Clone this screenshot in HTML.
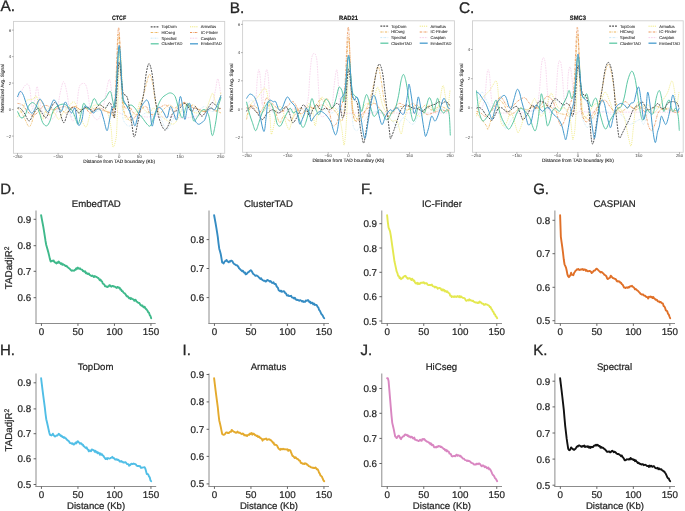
<!DOCTYPE html>
<html><head><meta charset="utf-8"><style>
html,body{margin:0;padding:0;background:#fff;}
svg{display:block;font-family:"Liberation Sans", sans-serif;will-change:transform;text-rendering:geometricPrecision;filter:blur(0.3px);}
</style></head><body>
<svg width="685" height="511" viewBox="0 0 685 511">
<rect width="685" height="511" fill="#fff"/>
<text x="0.2" y="194.4" font-size="15.0" text-anchor="start" font-weight="normal" fill="#262626" stroke="#262626" stroke-width="0.3">D.</text>
<text x="96.3" y="207.2" font-size="9.6" text-anchor="middle" font-weight="normal" fill="#262626" stroke="#262626" stroke-width="0.22">EmbedTAD</text>
<line x1="36.0" y1="210.5" x2="36.0" y2="324.0" stroke="#8c8c8c" stroke-width="1.0"/>
<line x1="35.5" y1="323.5" x2="155.7" y2="323.5" stroke="#8c8c8c" stroke-width="1.0"/>
<line x1="33.6" y1="219.3" x2="36.0" y2="219.3" stroke="#555" stroke-width="0.9"/>
<text x="31.2" y="222.85000000000002" font-size="9.8" text-anchor="end" font-weight="normal" fill="#262626" stroke="#262626" stroke-width="0.22">0.9</text>
<line x1="33.6" y1="245.7" x2="36.0" y2="245.7" stroke="#555" stroke-width="0.9"/>
<text x="31.2" y="249.25" font-size="9.8" text-anchor="end" font-weight="normal" fill="#262626" stroke="#262626" stroke-width="0.22">0.8</text>
<line x1="33.6" y1="271.3" x2="36.0" y2="271.3" stroke="#555" stroke-width="0.9"/>
<text x="31.2" y="274.85" font-size="9.8" text-anchor="end" font-weight="normal" fill="#262626" stroke="#262626" stroke-width="0.22">0.7</text>
<line x1="33.6" y1="297.7" x2="36.0" y2="297.7" stroke="#555" stroke-width="0.9"/>
<text x="31.2" y="301.25" font-size="9.8" text-anchor="end" font-weight="normal" fill="#262626" stroke="#262626" stroke-width="0.22">0.6</text>
<line x1="41.45" y1="323.5" x2="41.45" y2="325.9" stroke="#555" stroke-width="0.9"/>
<text x="41.45" y="335.0" font-size="9.8" text-anchor="middle" font-weight="normal" fill="#262626" stroke="#262626" stroke-width="0.22">0</text>
<line x1="77.95" y1="323.5" x2="77.95" y2="325.9" stroke="#555" stroke-width="0.9"/>
<text x="77.95" y="335.0" font-size="9.8" text-anchor="middle" font-weight="normal" fill="#262626" stroke="#262626" stroke-width="0.22">50</text>
<line x1="114.45" y1="323.5" x2="114.45" y2="325.9" stroke="#555" stroke-width="0.9"/>
<text x="114.45" y="335.0" font-size="9.8" text-anchor="middle" font-weight="normal" fill="#262626" stroke="#262626" stroke-width="0.22">100</text>
<line x1="150.95" y1="323.5" x2="150.95" y2="325.9" stroke="#555" stroke-width="0.9"/>
<text x="150.95" y="335.0" font-size="9.8" text-anchor="middle" font-weight="normal" fill="#262626" stroke="#262626" stroke-width="0.22">150</text>
<path d="M41.12,215.27 L41.85,219.16 L42.58,223.05 L43.32,226.94 L44.05,231.42 L44.78,236.19 L45.52,240.96 L46.25,245.00 L46.99,247.56 L47.72,250.13 L48.45,252.70 L49.19,255.91 L49.92,259.12 L50.66,261.51 L51.39,261.42 L52.12,260.71 L52.86,260.94 L53.59,260.40 L54.32,261.88 L55.06,262.38 L55.79,262.84 L56.53,263.43 L57.26,262.21 L57.99,262.88 L58.73,261.53 L59.46,262.40 L60.20,263.32 L60.93,263.90 L61.66,263.28 L62.40,264.82 L63.13,264.18 L63.86,264.92 L64.60,264.89 L65.33,266.08 L66.07,265.79 L66.80,266.15 L67.53,267.22 L68.27,267.58 L69.00,268.29 L69.74,268.80 L70.47,269.62 L71.20,270.46 L71.94,270.76 L72.67,270.33 L73.41,270.58 L74.14,270.70 L74.87,269.72 L75.61,269.84 L76.34,268.19 L77.07,268.91 L77.81,267.59 L78.54,268.46 L79.28,268.81 L80.01,268.27 L80.74,269.26 L81.48,269.64 L82.21,269.66 L82.95,271.09 L83.68,271.01 L84.41,271.84 L85.15,271.29 L85.88,273.17 L86.61,272.76 L87.35,273.88 L88.08,274.16 L88.82,273.45 L89.55,274.87 L90.28,275.18 L91.02,275.69 L91.75,276.02 L92.49,275.56 L93.22,276.27 L93.95,277.06 L94.69,276.08 L95.42,276.47 L96.15,276.79 L96.89,277.13 L97.62,277.82 L98.36,277.95 L99.09,279.09 L99.82,280.16 L100.56,279.59 L101.29,281.18 L102.03,281.42 L102.76,283.54 L103.49,284.01 L104.23,284.41 L104.96,286.21 L105.69,286.18 L106.43,286.54 L107.16,287.14 L107.90,286.57 L108.63,286.50 L109.36,285.12 L110.10,285.44 L110.83,286.36 L111.57,286.72 L112.30,285.84 L113.03,285.84 L113.77,286.51 L114.50,286.49 L115.23,286.90 L115.97,287.48 L116.70,287.90 L117.44,286.91 L118.17,287.38 L118.90,287.89 L119.64,287.73 L120.37,289.54 L121.11,289.41 L121.84,291.10 L122.57,291.08 L123.31,292.38 L124.04,293.00 L124.77,293.42 L125.51,294.27 L126.24,295.56 L126.98,296.43 L127.71,296.27 L128.44,297.36 L129.18,298.28 L129.91,297.65 L130.65,298.93 L131.38,298.24 L132.11,298.94 L132.85,299.20 L133.58,299.56 L134.32,300.87 L135.05,299.69 L135.78,300.02 L136.52,301.61 L137.25,301.86 L137.98,302.60 L138.72,303.01 L139.45,303.07 L140.19,304.56 L140.92,305.23 L141.65,305.89 L142.39,305.38 L143.12,306.74 L143.86,307.42 L144.59,306.73 L145.32,308.26 L146.06,309.03 L146.79,309.77 L147.52,310.74 L148.26,312.34 L148.99,312.69 L149.73,315.07 L150.46,316.02 L151.19,318.26" fill="none" stroke="#3fb98b" stroke-width="1.9" stroke-linejoin="round" stroke-linecap="round"/>
<text x="183.4" y="194.4" font-size="15.0" text-anchor="start" font-weight="normal" fill="#262626" stroke="#262626" stroke-width="0.3">E.</text>
<text x="268.5" y="207.2" font-size="9.6" text-anchor="middle" font-weight="normal" fill="#262626" stroke="#262626" stroke-width="0.22">ClusterTAD</text>
<line x1="209.0" y1="210.5" x2="209.0" y2="324.0" stroke="#8c8c8c" stroke-width="1.0"/>
<line x1="208.5" y1="323.5" x2="329" y2="323.5" stroke="#8c8c8c" stroke-width="1.0"/>
<line x1="206.6" y1="239.6" x2="209.0" y2="239.6" stroke="#555" stroke-width="0.9"/>
<text x="204.2" y="243.15" font-size="9.8" text-anchor="end" font-weight="normal" fill="#262626" stroke="#262626" stroke-width="0.22">0.8</text>
<line x1="206.6" y1="268.5" x2="209.0" y2="268.5" stroke="#555" stroke-width="0.9"/>
<text x="204.2" y="272.05" font-size="9.8" text-anchor="end" font-weight="normal" fill="#262626" stroke="#262626" stroke-width="0.22">0.7</text>
<line x1="206.6" y1="297.6" x2="209.0" y2="297.6" stroke="#555" stroke-width="0.9"/>
<text x="204.2" y="301.15000000000003" font-size="9.8" text-anchor="end" font-weight="normal" fill="#262626" stroke="#262626" stroke-width="0.22">0.6</text>
<line x1="214.45" y1="323.5" x2="214.45" y2="325.9" stroke="#555" stroke-width="0.9"/>
<text x="214.45" y="335.0" font-size="9.8" text-anchor="middle" font-weight="normal" fill="#262626" stroke="#262626" stroke-width="0.22">0</text>
<line x1="250.95" y1="323.5" x2="250.95" y2="325.9" stroke="#555" stroke-width="0.9"/>
<text x="250.95" y="335.0" font-size="9.8" text-anchor="middle" font-weight="normal" fill="#262626" stroke="#262626" stroke-width="0.22">50</text>
<line x1="287.45" y1="323.5" x2="287.45" y2="325.9" stroke="#555" stroke-width="0.9"/>
<text x="287.45" y="335.0" font-size="9.8" text-anchor="middle" font-weight="normal" fill="#262626" stroke="#262626" stroke-width="0.22">100</text>
<line x1="323.95" y1="323.5" x2="323.95" y2="325.9" stroke="#555" stroke-width="0.9"/>
<text x="323.95" y="335.0" font-size="9.8" text-anchor="middle" font-weight="normal" fill="#262626" stroke="#262626" stroke-width="0.22">150</text>
<path d="M214.12,215.27 L214.85,219.26 L215.58,223.24 L216.32,227.63 L217.05,232.21 L217.78,236.80 L218.52,243.41 L219.25,248.68 L219.99,251.30 L220.72,253.92 L221.45,258.20 L222.19,262.49 L222.92,262.80 L223.66,263.41 L224.39,261.94 L225.12,261.10 L225.86,260.84 L226.59,259.94 L227.32,261.39 L228.06,261.70 L228.79,262.33 L229.53,261.25 L230.26,261.54 L230.99,260.76 L231.73,260.81 L232.46,261.28 L233.20,262.93 L233.93,263.78 L234.66,264.22 L235.40,264.68 L236.13,265.20 L236.86,265.26 L237.60,265.83 L238.33,266.83 L239.07,268.18 L239.80,268.86 L240.53,269.74 L241.27,270.39 L242.00,271.16 L242.74,270.64 L243.47,271.72 L244.20,272.72 L244.94,272.46 L245.67,274.37 L246.41,274.14 L247.14,273.29 L247.87,272.46 L248.61,272.11 L249.34,271.27 L250.07,270.89 L250.81,270.15 L251.54,270.88 L252.28,272.29 L253.01,273.68 L253.74,274.21 L254.48,274.69 L255.21,275.75 L255.95,275.68 L256.68,275.49 L257.41,276.03 L258.15,276.48 L258.88,277.31 L259.61,278.10 L260.35,278.94 L261.08,278.22 L261.82,279.35 L262.55,280.18 L263.28,280.49 L264.02,280.77 L264.75,280.69 L265.49,281.49 L266.22,281.42 L266.95,280.15 L267.69,280.05 L268.42,280.58 L269.15,280.87 L269.89,281.65 L270.62,281.08 L271.36,281.93 L272.09,282.97 L272.82,282.90 L273.56,282.37 L274.29,283.84 L275.03,284.02 L275.76,284.02 L276.49,286.19 L277.23,287.15 L277.96,287.96 L278.69,290.31 L279.43,290.82 L280.16,291.29 L280.90,290.62 L281.63,291.74 L282.36,291.52 L283.10,291.49 L283.83,291.13 L284.57,291.96 L285.30,293.31 L286.03,293.33 L286.77,295.28 L287.50,295.65 L288.23,295.21 L288.97,296.05 L289.70,296.14 L290.44,295.99 L291.17,295.83 L291.90,297.30 L292.64,297.60 L293.37,297.79 L294.11,298.51 L294.84,297.66 L295.57,299.15 L296.31,299.95 L297.04,299.74 L297.77,300.02 L298.51,300.20 L299.24,300.75 L299.98,300.13 L300.71,300.47 L301.44,300.78 L302.18,301.55 L302.91,301.10 L303.65,302.01 L304.38,301.59 L305.11,301.87 L305.85,300.44 L306.58,300.80 L307.32,300.55 L308.05,300.04 L308.78,300.94 L309.52,302.19 L310.25,301.77 L310.98,303.20 L311.72,302.82 L312.45,302.80 L313.19,304.29 L313.92,303.44 L314.65,304.92 L315.39,304.70 L316.12,304.90 L316.86,305.37 L317.59,306.87 L318.32,307.45 L319.06,309.77 L319.79,310.59 L320.52,312.10 L321.26,313.84 L321.99,314.68 L322.73,315.58 L323.46,317.19 L324.19,318.26" fill="none" stroke="#358cc3" stroke-width="1.9" stroke-linejoin="round" stroke-linecap="round"/>
<text x="361.0" y="194.4" font-size="15.0" text-anchor="start" font-weight="normal" fill="#262626" stroke="#262626" stroke-width="0.3">F.</text>
<text x="441.9" y="207.2" font-size="9.6" text-anchor="middle" font-weight="normal" fill="#262626" stroke="#262626" stroke-width="0.22">IC-Finder</text>
<line x1="381.8" y1="210.5" x2="381.8" y2="324.0" stroke="#8c8c8c" stroke-width="1.0"/>
<line x1="381.3" y1="323.5" x2="502" y2="323.5" stroke="#8c8c8c" stroke-width="1.0"/>
<line x1="379.40000000000003" y1="223.7" x2="381.8" y2="223.7" stroke="#555" stroke-width="0.9"/>
<text x="377.0" y="227.25" font-size="9.8" text-anchor="end" font-weight="normal" fill="#262626" stroke="#262626" stroke-width="0.22">0.9</text>
<line x1="379.40000000000003" y1="248" x2="381.8" y2="248" stroke="#555" stroke-width="0.9"/>
<text x="377.0" y="251.55" font-size="9.8" text-anchor="end" font-weight="normal" fill="#262626" stroke="#262626" stroke-width="0.22">0.8</text>
<line x1="379.40000000000003" y1="272.3" x2="381.8" y2="272.3" stroke="#555" stroke-width="0.9"/>
<text x="377.0" y="275.85" font-size="9.8" text-anchor="end" font-weight="normal" fill="#262626" stroke="#262626" stroke-width="0.22">0.7</text>
<line x1="379.40000000000003" y1="296.7" x2="381.8" y2="296.7" stroke="#555" stroke-width="0.9"/>
<text x="377.0" y="300.25" font-size="9.8" text-anchor="end" font-weight="normal" fill="#262626" stroke="#262626" stroke-width="0.22">0.6</text>
<line x1="379.40000000000003" y1="321" x2="381.8" y2="321" stroke="#555" stroke-width="0.9"/>
<text x="377.0" y="324.55" font-size="9.8" text-anchor="end" font-weight="normal" fill="#262626" stroke="#262626" stroke-width="0.22">0.5</text>
<line x1="387.25" y1="323.5" x2="387.25" y2="325.9" stroke="#555" stroke-width="0.9"/>
<text x="387.25" y="335.0" font-size="9.8" text-anchor="middle" font-weight="normal" fill="#262626" stroke="#262626" stroke-width="0.22">0</text>
<line x1="423.75" y1="323.5" x2="423.75" y2="325.9" stroke="#555" stroke-width="0.9"/>
<text x="423.75" y="335.0" font-size="9.8" text-anchor="middle" font-weight="normal" fill="#262626" stroke="#262626" stroke-width="0.22">50</text>
<line x1="460.25" y1="323.5" x2="460.25" y2="325.9" stroke="#555" stroke-width="0.9"/>
<text x="460.25" y="335.0" font-size="9.8" text-anchor="middle" font-weight="normal" fill="#262626" stroke="#262626" stroke-width="0.22">100</text>
<line x1="496.75" y1="323.5" x2="496.75" y2="325.9" stroke="#555" stroke-width="0.9"/>
<text x="496.75" y="335.0" font-size="9.8" text-anchor="middle" font-weight="normal" fill="#262626" stroke="#262626" stroke-width="0.22">150</text>
<path d="M387.12,215.27 L387.85,222.32 L388.58,227.63 L389.32,229.46 L390.05,231.30 L390.78,235.40 L391.52,240.64 L392.25,245.85 L392.99,250.99 L393.72,256.13 L394.45,261.26 L395.19,264.62 L395.92,267.97 L396.66,271.46 L397.39,273.04 L398.12,275.87 L398.86,276.09 L399.59,278.20 L400.32,277.59 L401.06,279.15 L401.79,278.48 L402.53,278.12 L403.26,277.08 L403.99,276.48 L404.73,275.96 L405.46,275.81 L406.20,277.05 L406.93,277.64 L407.66,278.74 L408.40,278.49 L409.13,278.23 L409.86,278.27 L410.60,278.92 L411.33,280.09 L412.07,278.70 L412.80,279.53 L413.53,280.83 L414.27,280.59 L415.00,282.48 L415.74,283.40 L416.47,283.54 L417.20,282.65 L417.94,284.16 L418.67,283.26 L419.41,283.98 L420.14,283.58 L420.87,282.75 L421.61,282.72 L422.34,282.56 L423.07,282.83 L423.81,282.26 L424.54,283.53 L425.28,283.29 L426.01,283.16 L426.74,283.09 L427.48,284.54 L428.21,285.08 L428.95,285.15 L429.68,284.95 L430.41,285.21 L431.15,284.82 L431.88,284.58 L432.61,286.08 L433.35,286.32 L434.08,286.45 L434.82,287.46 L435.55,286.80 L436.28,287.11 L437.02,287.58 L437.75,288.78 L438.49,288.11 L439.22,287.88 L439.95,288.25 L440.69,288.44 L441.42,289.98 L442.15,290.40 L442.89,289.22 L443.62,290.49 L444.36,290.07 L445.09,291.44 L445.82,290.88 L446.56,292.06 L447.29,291.34 L448.03,292.56 L448.76,293.04 L449.49,293.45 L450.23,295.60 L450.96,295.75 L451.69,297.07 L452.43,296.35 L453.16,296.36 L453.90,297.06 L454.63,296.29 L455.36,296.81 L456.10,296.37 L456.83,296.96 L457.57,296.05 L458.30,296.44 L459.03,297.22 L459.77,296.11 L460.50,297.16 L461.23,296.58 L461.97,297.19 L462.70,297.74 L463.44,297.88 L464.17,298.09 L464.90,298.58 L465.64,300.02 L466.37,300.83 L467.11,300.50 L467.84,299.98 L468.57,300.51 L469.31,299.29 L470.04,300.38 L470.77,300.26 L471.51,300.53 L472.24,301.04 L472.98,300.67 L473.71,301.58 L474.44,302.05 L475.18,302.28 L475.91,302.53 L476.65,302.46 L477.38,302.97 L478.11,302.37 L478.85,302.94 L479.58,301.48 L480.32,302.23 L481.05,302.35 L481.78,303.37 L482.52,303.69 L483.25,303.69 L483.98,304.92 L484.72,304.83 L485.45,303.95 L486.19,304.38 L486.92,304.46 L487.65,304.98 L488.39,305.27 L489.12,305.79 L489.86,307.15 L490.59,307.03 L491.32,308.79 L492.06,309.60 L492.79,311.45 L493.52,312.05 L494.26,314.15 L494.99,314.46 L495.73,316.34 L496.46,316.87 L497.19,318.26" fill="none" stroke="#e4e850" stroke-width="1.9" stroke-linejoin="round" stroke-linecap="round"/>
<text x="533.2" y="194.4" font-size="15.0" text-anchor="start" font-weight="normal" fill="#262626" stroke="#262626" stroke-width="0.3">G.</text>
<text x="614.5" y="207.2" font-size="9.6" text-anchor="middle" font-weight="normal" fill="#262626" stroke="#262626" stroke-width="0.22">CASPIAN</text>
<line x1="554.9" y1="210.5" x2="554.9" y2="324.0" stroke="#8c8c8c" stroke-width="1.0"/>
<line x1="554.4" y1="323.5" x2="675" y2="323.5" stroke="#8c8c8c" stroke-width="1.0"/>
<line x1="552.5" y1="220.3" x2="554.9" y2="220.3" stroke="#555" stroke-width="0.9"/>
<text x="550.1" y="223.85000000000002" font-size="9.8" text-anchor="end" font-weight="normal" fill="#262626" stroke="#262626" stroke-width="0.22">0.8</text>
<line x1="552.5" y1="253.7" x2="554.9" y2="253.7" stroke="#555" stroke-width="0.9"/>
<text x="550.1" y="257.25" font-size="9.8" text-anchor="end" font-weight="normal" fill="#262626" stroke="#262626" stroke-width="0.22">0.7</text>
<line x1="552.5" y1="287.3" x2="554.9" y2="287.3" stroke="#555" stroke-width="0.9"/>
<text x="550.1" y="290.85" font-size="9.8" text-anchor="end" font-weight="normal" fill="#262626" stroke="#262626" stroke-width="0.22">0.6</text>
<line x1="552.5" y1="320.7" x2="554.9" y2="320.7" stroke="#555" stroke-width="0.9"/>
<text x="550.1" y="324.25" font-size="9.8" text-anchor="end" font-weight="normal" fill="#262626" stroke="#262626" stroke-width="0.22">0.5</text>
<line x1="560.35" y1="323.5" x2="560.35" y2="325.9" stroke="#555" stroke-width="0.9"/>
<text x="560.35" y="335.0" font-size="9.8" text-anchor="middle" font-weight="normal" fill="#262626" stroke="#262626" stroke-width="0.22">0</text>
<line x1="596.85" y1="323.5" x2="596.85" y2="325.9" stroke="#555" stroke-width="0.9"/>
<text x="596.85" y="335.0" font-size="9.8" text-anchor="middle" font-weight="normal" fill="#262626" stroke="#262626" stroke-width="0.22">50</text>
<line x1="633.35" y1="323.5" x2="633.35" y2="325.9" stroke="#555" stroke-width="0.9"/>
<text x="633.35" y="335.0" font-size="9.8" text-anchor="middle" font-weight="normal" fill="#262626" stroke="#262626" stroke-width="0.22">100</text>
<line x1="669.85" y1="323.5" x2="669.85" y2="325.9" stroke="#555" stroke-width="0.9"/>
<text x="669.85" y="335.0" font-size="9.8" text-anchor="middle" font-weight="normal" fill="#262626" stroke="#262626" stroke-width="0.22">150</text>
<path d="M560.12,215.27 L560.85,236.80 L561.58,242.04 L562.32,247.28 L563.05,253.22 L563.78,259.51 L564.52,264.26 L565.25,265.91 L565.99,267.56 L566.72,270.72 L567.45,274.63 L568.19,276.43 L568.92,277.16 L569.66,276.15 L570.39,275.15 L571.12,272.71 L571.86,274.72 L572.59,274.93 L573.32,275.20 L574.06,273.07 L574.79,272.01 L575.53,270.82 L576.26,270.31 L576.99,269.31 L577.73,269.64 L578.46,269.00 L579.20,269.90 L579.93,270.00 L580.66,269.52 L581.40,269.29 L582.13,269.58 L582.86,269.07 L583.60,270.06 L584.33,269.33 L585.07,269.36 L585.80,270.69 L586.53,270.11 L587.27,271.08 L588.00,271.28 L588.74,271.11 L589.47,270.89 L590.20,271.17 L590.94,271.77 L591.67,272.99 L592.41,272.44 L593.14,271.58 L593.87,270.62 L594.61,270.61 L595.34,270.09 L596.07,268.99 L596.81,268.69 L597.54,269.35 L598.28,270.13 L599.01,270.84 L599.74,271.48 L600.48,272.42 L601.21,272.02 L601.95,272.19 L602.68,273.02 L603.41,273.43 L604.15,274.59 L604.88,275.02 L605.61,275.51 L606.35,276.17 L607.08,278.25 L607.82,279.07 L608.55,278.46 L609.28,277.98 L610.02,277.61 L610.75,275.68 L611.49,276.38 L612.22,277.29 L612.95,278.10 L613.69,278.24 L614.42,278.72 L615.15,278.89 L615.89,279.28 L616.62,280.78 L617.36,281.44 L618.09,281.16 L618.82,281.59 L619.56,281.54 L620.29,282.79 L621.03,282.65 L621.76,284.13 L622.49,284.55 L623.23,285.83 L623.96,287.45 L624.69,287.54 L625.43,288.06 L626.16,287.47 L626.90,287.49 L627.63,287.86 L628.36,287.02 L629.10,287.53 L629.83,286.39 L630.57,286.22 L631.30,286.28 L632.03,285.81 L632.77,286.73 L633.50,287.22 L634.23,287.88 L634.97,289.35 L635.70,289.02 L636.44,289.56 L637.17,290.37 L637.90,290.76 L638.64,291.64 L639.37,292.37 L640.11,293.27 L640.84,294.04 L641.57,294.49 L642.31,294.44 L643.04,294.38 L643.77,295.32 L644.51,295.72 L645.24,295.69 L645.98,296.87 L646.71,297.02 L647.44,297.16 L648.18,298.52 L648.91,296.82 L649.65,296.85 L650.38,296.57 L651.11,297.16 L651.85,296.70 L652.58,298.09 L653.32,297.03 L654.05,298.17 L654.78,298.79 L655.52,299.81 L656.25,299.62 L656.98,299.96 L657.72,301.18 L658.45,301.55 L659.19,301.50 L659.92,302.32 L660.65,301.92 L661.39,302.67 L662.12,303.41 L662.86,303.47 L663.59,306.06 L664.32,306.30 L665.06,307.80 L665.79,310.35 L666.52,310.72 L667.26,311.33 L667.99,313.81 L668.73,314.39 L669.46,316.50 L670.19,318.26" fill="none" stroke="#e07028" stroke-width="1.9" stroke-linejoin="round" stroke-linecap="round"/>
<text x="0.0" y="354.9" font-size="15.0" text-anchor="start" font-weight="normal" fill="#262626" stroke="#262626" stroke-width="0.3">H.</text>
<text x="95.6" y="370.2" font-size="9.6" text-anchor="middle" font-weight="normal" fill="#262626" stroke="#262626" stroke-width="0.22">TopDom</text>
<line x1="36.0" y1="373.5" x2="36.0" y2="487.0" stroke="#8c8c8c" stroke-width="1.0"/>
<line x1="35.5" y1="486.5" x2="156.2" y2="486.5" stroke="#8c8c8c" stroke-width="1.0"/>
<line x1="33.6" y1="382.8" x2="36.0" y2="382.8" stroke="#555" stroke-width="0.9"/>
<text x="31.2" y="386.35" font-size="9.8" text-anchor="end" font-weight="normal" fill="#262626" stroke="#262626" stroke-width="0.22">0.9</text>
<line x1="33.6" y1="408.9" x2="36.0" y2="408.9" stroke="#555" stroke-width="0.9"/>
<text x="31.2" y="412.45" font-size="9.8" text-anchor="end" font-weight="normal" fill="#262626" stroke="#262626" stroke-width="0.22">0.8</text>
<line x1="33.6" y1="433.7" x2="36.0" y2="433.7" stroke="#555" stroke-width="0.9"/>
<text x="31.2" y="437.25" font-size="9.8" text-anchor="end" font-weight="normal" fill="#262626" stroke="#262626" stroke-width="0.22">0.7</text>
<line x1="33.6" y1="458.8" x2="36.0" y2="458.8" stroke="#555" stroke-width="0.9"/>
<text x="31.2" y="462.35" font-size="9.8" text-anchor="end" font-weight="normal" fill="#262626" stroke="#262626" stroke-width="0.22">0.6</text>
<line x1="33.6" y1="484.5" x2="36.0" y2="484.5" stroke="#555" stroke-width="0.9"/>
<text x="31.2" y="488.05" font-size="9.8" text-anchor="end" font-weight="normal" fill="#262626" stroke="#262626" stroke-width="0.22">0.5</text>
<line x1="41.45" y1="486.5" x2="41.45" y2="488.9" stroke="#555" stroke-width="0.9"/>
<text x="41.45" y="498.0" font-size="9.8" text-anchor="middle" font-weight="normal" fill="#262626" stroke="#262626" stroke-width="0.22">0</text>
<line x1="77.95" y1="486.5" x2="77.95" y2="488.9" stroke="#555" stroke-width="0.9"/>
<text x="77.95" y="498.0" font-size="9.8" text-anchor="middle" font-weight="normal" fill="#262626" stroke="#262626" stroke-width="0.22">50</text>
<line x1="114.45" y1="486.5" x2="114.45" y2="488.9" stroke="#555" stroke-width="0.9"/>
<text x="114.45" y="498.0" font-size="9.8" text-anchor="middle" font-weight="normal" fill="#262626" stroke="#262626" stroke-width="0.22">100</text>
<line x1="150.95" y1="486.5" x2="150.95" y2="488.9" stroke="#555" stroke-width="0.9"/>
<text x="150.95" y="498.0" font-size="9.8" text-anchor="middle" font-weight="normal" fill="#262626" stroke="#262626" stroke-width="0.22">150</text>
<path d="M41.12,378.27 L41.85,384.35 L42.58,390.44 L43.32,396.13 L44.05,401.64 L44.78,407.14 L45.52,413.74 L46.25,419.20 L46.99,422.34 L47.72,425.49 L48.45,428.88 L49.19,432.27 L49.92,434.83 L50.66,435.03 L51.39,435.46 L52.12,435.04 L52.86,433.68 L53.59,435.10 L54.32,435.93 L55.06,436.57 L55.79,436.03 L56.53,435.43 L57.26,435.62 L57.99,434.78 L58.73,433.80 L59.46,434.39 L60.20,435.33 L60.93,435.96 L61.66,435.70 L62.40,437.07 L63.13,436.92 L63.86,437.87 L64.60,437.27 L65.33,438.27 L66.07,438.43 L66.80,439.70 L67.53,440.08 L68.27,440.85 L69.00,441.23 L69.74,442.83 L70.47,443.07 L71.20,443.20 L71.94,443.83 L72.67,443.33 L73.41,444.54 L74.14,444.48 L74.87,443.55 L75.61,442.49 L76.34,443.38 L77.07,441.81 L77.81,441.16 L78.54,442.18 L79.28,442.56 L80.01,443.76 L80.74,443.17 L81.48,443.62 L82.21,444.81 L82.95,444.76 L83.68,446.34 L84.41,446.50 L85.15,447.49 L85.88,447.95 L86.61,447.38 L87.35,449.18 L88.08,449.64 L88.82,451.28 L89.55,450.40 L90.28,450.72 L91.02,451.28 L91.75,449.52 L92.49,449.63 L93.22,449.99 L93.95,450.41 L94.69,451.76 L95.42,450.82 L96.15,452.18 L96.89,451.78 L97.62,453.24 L98.36,452.56 L99.09,452.98 L99.82,454.68 L100.56,453.40 L101.29,454.69 L102.03,454.27 L102.76,455.52 L103.49,455.93 L104.23,457.26 L104.96,458.17 L105.69,459.12 L106.43,458.26 L107.16,459.20 L107.90,458.06 L108.63,458.43 L109.36,458.58 L110.10,458.34 L110.83,457.79 L111.57,457.56 L112.30,456.85 L113.03,458.04 L113.77,458.01 L114.50,458.73 L115.23,459.47 L115.97,459.48 L116.70,459.27 L117.44,459.93 L118.17,459.78 L118.90,460.29 L119.64,461.56 L120.37,461.60 L121.11,461.01 L121.84,461.72 L122.57,461.69 L123.31,462.49 L124.04,462.66 L124.77,462.26 L125.51,462.31 L126.24,462.95 L126.98,464.03 L127.71,464.19 L128.44,464.14 L129.18,465.75 L129.91,465.25 L130.65,464.49 L131.38,463.73 L132.11,463.95 L132.85,464.03 L133.58,463.49 L134.32,463.85 L135.05,464.04 L135.78,464.31 L136.52,465.54 L137.25,465.99 L137.98,466.17 L138.72,465.95 L139.45,466.36 L140.19,466.21 L140.92,467.87 L141.65,467.82 L142.39,467.67 L143.12,467.43 L143.86,467.33 L144.59,467.13 L145.32,468.61 L146.06,471.28 L146.79,474.12 L147.52,473.99 L148.26,474.59 L148.99,476.39 L149.73,477.32 L150.46,480.35 L151.19,481.26" fill="none" stroke="#50bee6" stroke-width="1.9" stroke-linejoin="round" stroke-linecap="round"/>
<text x="96.1" y="509.2" font-size="9.6" text-anchor="middle" font-weight="normal" fill="#262626" stroke="#262626" stroke-width="0.22">Distance (Kb)</text>
<text x="182.6" y="354.9" font-size="15.0" text-anchor="start" font-weight="normal" fill="#262626" stroke="#262626" stroke-width="0.3">I.</text>
<text x="268.5" y="370.2" font-size="9.6" text-anchor="middle" font-weight="normal" fill="#262626" stroke="#262626" stroke-width="0.22">Armatus</text>
<line x1="209.0" y1="373.5" x2="209.0" y2="487.0" stroke="#8c8c8c" stroke-width="1.0"/>
<line x1="208.5" y1="486.5" x2="329" y2="486.5" stroke="#8c8c8c" stroke-width="1.0"/>
<line x1="206.6" y1="374.5" x2="209.0" y2="374.5" stroke="#555" stroke-width="0.9"/>
<text x="204.2" y="378.05" font-size="9.8" text-anchor="end" font-weight="normal" fill="#262626" stroke="#262626" stroke-width="0.22">0.9</text>
<line x1="206.6" y1="401.9" x2="209.0" y2="401.9" stroke="#555" stroke-width="0.9"/>
<text x="204.2" y="405.45" font-size="9.8" text-anchor="end" font-weight="normal" fill="#262626" stroke="#262626" stroke-width="0.22">0.8</text>
<line x1="206.6" y1="429.3" x2="209.0" y2="429.3" stroke="#555" stroke-width="0.9"/>
<text x="204.2" y="432.85" font-size="9.8" text-anchor="end" font-weight="normal" fill="#262626" stroke="#262626" stroke-width="0.22">0.7</text>
<line x1="206.6" y1="456.4" x2="209.0" y2="456.4" stroke="#555" stroke-width="0.9"/>
<text x="204.2" y="459.95" font-size="9.8" text-anchor="end" font-weight="normal" fill="#262626" stroke="#262626" stroke-width="0.22">0.6</text>
<line x1="206.6" y1="483.9" x2="209.0" y2="483.9" stroke="#555" stroke-width="0.9"/>
<text x="204.2" y="487.45" font-size="9.8" text-anchor="end" font-weight="normal" fill="#262626" stroke="#262626" stroke-width="0.22">0.5</text>
<line x1="214.45" y1="486.5" x2="214.45" y2="488.9" stroke="#555" stroke-width="0.9"/>
<text x="214.45" y="498.0" font-size="9.8" text-anchor="middle" font-weight="normal" fill="#262626" stroke="#262626" stroke-width="0.22">0</text>
<line x1="250.95" y1="486.5" x2="250.95" y2="488.9" stroke="#555" stroke-width="0.9"/>
<text x="250.95" y="498.0" font-size="9.8" text-anchor="middle" font-weight="normal" fill="#262626" stroke="#262626" stroke-width="0.22">50</text>
<line x1="287.45" y1="486.5" x2="287.45" y2="488.9" stroke="#555" stroke-width="0.9"/>
<text x="287.45" y="498.0" font-size="9.8" text-anchor="middle" font-weight="normal" fill="#262626" stroke="#262626" stroke-width="0.22">100</text>
<line x1="323.95" y1="486.5" x2="323.95" y2="488.9" stroke="#555" stroke-width="0.9"/>
<text x="323.95" y="498.0" font-size="9.8" text-anchor="middle" font-weight="normal" fill="#262626" stroke="#262626" stroke-width="0.22">150</text>
<path d="M214.12,378.27 L214.85,384.35 L215.58,390.44 L216.32,396.13 L217.05,401.64 L217.78,407.14 L218.52,414.48 L219.25,420.42 L219.99,423.56 L220.72,426.71 L221.45,430.38 L222.19,434.05 L222.92,434.57 L223.66,434.74 L224.39,434.64 L225.12,433.78 L225.86,432.66 L226.59,432.38 L227.32,432.66 L228.06,433.15 L228.79,433.08 L229.53,432.20 L230.26,431.70 L230.99,431.80 L231.73,429.86 L232.46,430.72 L233.20,431.18 L233.93,431.72 L234.66,431.87 L235.40,432.66 L236.13,432.79 L236.86,432.20 L237.60,431.61 L238.33,432.69 L239.07,432.85 L239.80,432.52 L240.53,433.35 L241.27,433.78 L242.00,434.18 L242.74,433.45 L243.47,433.92 L244.20,435.35 L244.94,434.99 L245.67,435.48 L246.41,435.14 L247.14,436.06 L247.87,435.00 L248.61,434.57 L249.34,434.77 L250.07,433.41 L250.81,434.01 L251.54,433.08 L252.28,434.70 L253.01,433.56 L253.74,433.77 L254.48,434.48 L255.21,435.35 L255.95,435.30 L256.68,436.04 L257.41,435.69 L258.15,437.07 L258.88,436.38 L259.61,437.08 L260.35,438.08 L261.08,438.31 L261.82,438.93 L262.55,440.64 L263.28,439.30 L264.02,439.47 L264.75,439.03 L265.49,438.92 L266.22,438.46 L266.95,439.81 L267.69,439.73 L268.42,439.41 L269.15,439.11 L269.89,439.74 L270.62,440.02 L271.36,440.75 L272.09,441.37 L272.82,442.70 L273.56,442.57 L274.29,444.65 L275.03,444.96 L275.76,444.74 L276.49,445.13 L277.23,445.87 L277.96,447.54 L278.69,448.73 L279.43,449.16 L280.16,449.90 L280.90,448.81 L281.63,449.36 L282.36,449.25 L283.10,448.65 L283.83,449.18 L284.57,449.13 L285.30,449.27 L286.03,449.33 L286.77,449.66 L287.50,449.21 L288.23,450.88 L288.97,449.94 L289.70,450.15 L290.44,450.64 L291.17,452.70 L291.90,454.48 L292.64,456.03 L293.37,456.19 L294.11,457.25 L294.84,458.06 L295.57,457.25 L296.31,458.07 L297.04,458.91 L297.77,459.03 L298.51,459.66 L299.24,460.52 L299.98,460.66 L300.71,462.76 L301.44,462.96 L302.18,463.36 L302.91,463.88 L303.65,463.67 L304.38,464.11 L305.11,463.20 L305.85,463.68 L306.58,463.64 L307.32,464.92 L308.05,465.20 L308.78,466.15 L309.52,466.39 L310.25,466.69 L310.98,467.35 L311.72,467.35 L312.45,467.91 L313.19,467.79 L313.92,467.99 L314.65,468.02 L315.39,467.46 L316.12,468.21 L316.86,469.39 L317.59,469.25 L318.32,470.53 L319.06,472.70 L319.79,473.65 L320.52,475.58 L321.26,476.09 L321.99,476.79 L322.73,478.72 L323.46,480.45 L324.19,481.26" fill="none" stroke="#e4aa2d" stroke-width="1.9" stroke-linejoin="round" stroke-linecap="round"/>
<text x="269.0" y="509.2" font-size="9.6" text-anchor="middle" font-weight="normal" fill="#262626" stroke="#262626" stroke-width="0.22">Distance (Kb)</text>
<text x="360.6" y="354.9" font-size="15.0" text-anchor="start" font-weight="normal" fill="#262626" stroke="#262626" stroke-width="0.3">J.</text>
<text x="441.4" y="370.2" font-size="9.6" text-anchor="middle" font-weight="normal" fill="#262626" stroke="#262626" stroke-width="0.22">HiCseg</text>
<line x1="381.8" y1="373.5" x2="381.8" y2="487.0" stroke="#8c8c8c" stroke-width="1.0"/>
<line x1="381.3" y1="486.5" x2="502" y2="486.5" stroke="#8c8c8c" stroke-width="1.0"/>
<line x1="379.40000000000003" y1="388.5" x2="381.8" y2="388.5" stroke="#555" stroke-width="0.9"/>
<text x="377.0" y="392.05" font-size="9.8" text-anchor="end" font-weight="normal" fill="#262626" stroke="#262626" stroke-width="0.22">0.9</text>
<line x1="379.40000000000003" y1="413.3" x2="381.8" y2="413.3" stroke="#555" stroke-width="0.9"/>
<text x="377.0" y="416.85" font-size="9.8" text-anchor="end" font-weight="normal" fill="#262626" stroke="#262626" stroke-width="0.22">0.8</text>
<line x1="379.40000000000003" y1="438.4" x2="381.8" y2="438.4" stroke="#555" stroke-width="0.9"/>
<text x="377.0" y="441.95" font-size="9.8" text-anchor="end" font-weight="normal" fill="#262626" stroke="#262626" stroke-width="0.22">0.7</text>
<line x1="379.40000000000003" y1="463.5" x2="381.8" y2="463.5" stroke="#555" stroke-width="0.9"/>
<text x="377.0" y="467.05" font-size="9.8" text-anchor="end" font-weight="normal" fill="#262626" stroke="#262626" stroke-width="0.22">0.6</text>
<line x1="387.25" y1="486.5" x2="387.25" y2="488.9" stroke="#555" stroke-width="0.9"/>
<text x="387.25" y="498.0" font-size="9.8" text-anchor="middle" font-weight="normal" fill="#262626" stroke="#262626" stroke-width="0.22">0</text>
<line x1="423.75" y1="486.5" x2="423.75" y2="488.9" stroke="#555" stroke-width="0.9"/>
<text x="423.75" y="498.0" font-size="9.8" text-anchor="middle" font-weight="normal" fill="#262626" stroke="#262626" stroke-width="0.22">50</text>
<line x1="460.25" y1="486.5" x2="460.25" y2="488.9" stroke="#555" stroke-width="0.9"/>
<text x="460.25" y="498.0" font-size="9.8" text-anchor="middle" font-weight="normal" fill="#262626" stroke="#262626" stroke-width="0.22">100</text>
<line x1="496.75" y1="486.5" x2="496.75" y2="488.9" stroke="#555" stroke-width="0.9"/>
<text x="496.75" y="498.0" font-size="9.8" text-anchor="middle" font-weight="normal" fill="#262626" stroke="#262626" stroke-width="0.22">150</text>
<path d="M387.12,378.27 L387.85,378.27 L388.58,381.11 L389.32,389.62 L390.05,398.33 L390.78,407.14 L391.52,415.95 L392.25,422.86 L392.99,426.01 L393.72,429.15 L394.45,432.82 L395.19,436.49 L395.92,437.02 L396.66,438.12 L397.39,437.25 L398.12,435.87 L398.86,435.64 L399.59,436.68 L400.32,438.32 L401.06,439.14 L401.79,437.48 L402.53,436.89 L403.26,436.18 L403.99,436.19 L404.73,434.69 L405.46,434.48 L406.20,435.15 L406.93,434.72 L407.66,435.90 L408.40,435.54 L409.13,436.85 L409.86,436.43 L410.60,437.45 L411.33,436.79 L412.07,436.87 L412.80,438.43 L413.53,438.62 L414.27,437.62 L415.00,439.58 L415.74,439.78 L416.47,440.27 L417.20,440.09 L417.94,440.75 L418.67,441.11 L419.41,440.48 L420.14,439.76 L420.87,440.61 L421.61,440.77 L422.34,439.04 L423.07,439.61 L423.81,438.93 L424.54,439.36 L425.28,440.43 L426.01,440.86 L426.74,441.67 L427.48,441.60 L428.21,442.14 L428.95,442.89 L429.68,442.74 L430.41,444.35 L431.15,443.49 L431.88,445.25 L432.61,444.66 L433.35,445.32 L434.08,447.28 L434.82,447.35 L435.55,447.07 L436.28,447.44 L437.02,446.53 L437.75,446.91 L438.49,445.99 L439.22,446.32 L439.95,446.14 L440.69,447.12 L441.42,446.73 L442.15,447.55 L442.89,447.97 L443.62,449.07 L444.36,448.90 L445.09,450.32 L445.82,449.69 L446.56,451.35 L447.29,450.53 L448.03,451.50 L448.76,451.65 L449.49,453.67 L450.23,453.67 L450.96,454.31 L451.69,456.08 L452.43,456.50 L453.16,456.09 L453.90,456.01 L454.63,456.00 L455.36,456.27 L456.10,455.14 L456.83,454.63 L457.57,455.85 L458.30,455.25 L459.03,455.35 L459.77,456.17 L460.50,455.65 L461.23,456.96 L461.97,457.26 L462.70,458.60 L463.44,458.59 L464.17,458.94 L464.90,459.94 L465.64,460.18 L466.37,460.32 L467.11,461.00 L467.84,460.40 L468.57,461.08 L469.31,461.06 L470.04,461.50 L470.77,462.28 L471.51,462.93 L472.24,463.20 L472.98,463.48 L473.71,464.29 L474.44,464.53 L475.18,464.44 L475.91,464.63 L476.65,463.72 L477.38,463.63 L478.11,464.19 L478.85,463.36 L479.58,463.69 L480.32,464.36 L481.05,465.67 L481.78,466.35 L482.52,465.38 L483.25,465.52 L483.98,466.11 L484.72,467.15 L485.45,466.56 L486.19,467.02 L486.92,468.32 L487.65,468.38 L488.39,467.43 L489.12,469.32 L489.86,468.90 L490.59,470.06 L491.32,471.51 L492.06,473.38 L492.79,474.87 L493.52,475.29 L494.26,476.48 L494.99,478.25 L495.73,478.64 L496.46,479.90 L497.19,481.26" fill="none" stroke="#d986c1" stroke-width="1.9" stroke-linejoin="round" stroke-linecap="round"/>
<text x="441.9" y="509.2" font-size="9.6" text-anchor="middle" font-weight="normal" fill="#262626" stroke="#262626" stroke-width="0.22">Distance (Kb)</text>
<text x="533.2" y="354.9" font-size="15.0" text-anchor="start" font-weight="normal" fill="#262626" stroke="#262626" stroke-width="0.3">K.</text>
<text x="614.5" y="370.2" font-size="9.6" text-anchor="middle" font-weight="normal" fill="#262626" stroke="#262626" stroke-width="0.22">Spectral</text>
<line x1="554.9" y1="373.5" x2="554.9" y2="487.0" stroke="#8c8c8c" stroke-width="1.0"/>
<line x1="554.4" y1="486.5" x2="675" y2="486.5" stroke="#8c8c8c" stroke-width="1.0"/>
<line x1="552.5" y1="381.2" x2="554.9" y2="381.2" stroke="#555" stroke-width="0.9"/>
<text x="550.1" y="384.75" font-size="9.8" text-anchor="end" font-weight="normal" fill="#262626" stroke="#262626" stroke-width="0.22">0.9</text>
<line x1="552.5" y1="406.9" x2="554.9" y2="406.9" stroke="#555" stroke-width="0.9"/>
<text x="550.1" y="410.45" font-size="9.8" text-anchor="end" font-weight="normal" fill="#262626" stroke="#262626" stroke-width="0.22">0.8</text>
<line x1="552.5" y1="433" x2="554.9" y2="433" stroke="#555" stroke-width="0.9"/>
<text x="550.1" y="436.55" font-size="9.8" text-anchor="end" font-weight="normal" fill="#262626" stroke="#262626" stroke-width="0.22">0.7</text>
<line x1="552.5" y1="459.1" x2="554.9" y2="459.1" stroke="#555" stroke-width="0.9"/>
<text x="550.1" y="462.65000000000003" font-size="9.8" text-anchor="end" font-weight="normal" fill="#262626" stroke="#262626" stroke-width="0.22">0.6</text>
<line x1="552.5" y1="485.2" x2="554.9" y2="485.2" stroke="#555" stroke-width="0.9"/>
<text x="550.1" y="488.75" font-size="9.8" text-anchor="end" font-weight="normal" fill="#262626" stroke="#262626" stroke-width="0.22">0.5</text>
<line x1="560.35" y1="486.5" x2="560.35" y2="488.9" stroke="#555" stroke-width="0.9"/>
<text x="560.35" y="498.0" font-size="9.8" text-anchor="middle" font-weight="normal" fill="#262626" stroke="#262626" stroke-width="0.22">0</text>
<line x1="596.85" y1="486.5" x2="596.85" y2="488.9" stroke="#555" stroke-width="0.9"/>
<text x="596.85" y="498.0" font-size="9.8" text-anchor="middle" font-weight="normal" fill="#262626" stroke="#262626" stroke-width="0.22">50</text>
<line x1="633.35" y1="486.5" x2="633.35" y2="488.9" stroke="#555" stroke-width="0.9"/>
<text x="633.35" y="498.0" font-size="9.8" text-anchor="middle" font-weight="normal" fill="#262626" stroke="#262626" stroke-width="0.22">100</text>
<line x1="669.85" y1="486.5" x2="669.85" y2="488.9" stroke="#555" stroke-width="0.9"/>
<text x="669.85" y="498.0" font-size="9.8" text-anchor="middle" font-weight="normal" fill="#262626" stroke="#262626" stroke-width="0.22">150</text>
<path d="M560.12,378.27 L560.85,384.35 L561.58,390.44 L562.32,396.74 L563.05,403.16 L563.78,409.59 L564.52,418.39 L565.25,426.36 L565.99,432.65 L566.72,438.94 L567.45,443.83 L568.19,448.72 L568.92,449.90 L569.66,450.25 L570.39,449.17 L571.12,447.47 L571.86,448.17 L572.59,448.76 L573.32,449.49 L574.06,449.90 L574.79,449.31 L575.53,448.72 L576.26,447.59 L576.99,446.40 L577.73,446.64 L578.46,445.58 L579.20,445.33 L579.93,445.72 L580.66,446.23 L581.40,446.86 L582.13,446.03 L582.86,446.54 L583.60,445.91 L584.33,445.52 L585.07,447.10 L585.80,446.56 L586.53,446.48 L587.27,446.92 L588.00,446.15 L588.74,447.47 L589.47,446.70 L590.20,447.89 L590.94,446.77 L591.67,447.39 L592.41,446.95 L593.14,447.08 L593.87,445.82 L594.61,445.44 L595.34,445.51 L596.07,444.71 L596.81,445.56 L597.54,444.81 L598.28,445.48 L599.01,446.19 L599.74,445.92 L600.48,447.65 L601.21,446.99 L601.95,447.82 L602.68,447.64 L603.41,448.02 L604.15,448.93 L604.88,449.35 L605.61,449.95 L606.35,451.00 L607.08,451.76 L607.82,451.78 L608.55,451.53 L609.28,451.47 L610.02,452.34 L610.75,452.21 L611.49,451.25 L612.22,450.63 L612.95,451.29 L613.69,452.29 L614.42,451.65 L615.15,452.01 L615.89,452.71 L616.62,453.58 L617.36,454.07 L618.09,453.94 L618.82,454.23 L619.56,454.81 L620.29,455.06 L621.03,456.23 L621.76,455.52 L622.49,456.86 L623.23,457.65 L623.96,458.81 L624.69,460.25 L625.43,460.33 L626.16,459.84 L626.90,459.24 L627.63,459.42 L628.36,459.56 L629.10,459.02 L629.83,459.46 L630.57,457.94 L631.30,458.59 L632.03,459.32 L632.77,459.18 L633.50,460.00 L634.23,459.72 L634.97,461.17 L635.70,460.31 L636.44,461.33 L637.17,462.18 L637.90,463.03 L638.64,462.63 L639.37,463.70 L640.11,463.81 L640.84,464.19 L641.57,464.62 L642.31,464.20 L643.04,464.31 L643.77,465.24 L644.51,464.83 L645.24,464.75 L645.98,465.10 L646.71,465.80 L647.44,466.08 L648.18,465.83 L648.91,466.95 L649.65,465.58 L650.38,466.51 L651.11,465.70 L651.85,466.42 L652.58,466.81 L653.32,466.13 L654.05,466.17 L654.78,467.29 L655.52,468.08 L656.25,468.23 L656.98,468.25 L657.72,467.86 L658.45,469.25 L659.19,468.49 L659.92,469.25 L660.65,469.44 L661.39,469.18 L662.12,470.22 L662.86,470.66 L663.59,471.45 L664.32,471.49 L665.06,472.68 L665.79,473.76 L666.52,475.45 L667.26,477.24 L667.99,478.31 L668.73,478.49 L669.46,480.16 L670.19,481.26" fill="none" stroke="#111111" stroke-width="1.9" stroke-linejoin="round" stroke-linecap="round"/>
<text x="615.0" y="509.2" font-size="9.6" text-anchor="middle" font-weight="normal" fill="#262626" stroke="#262626" stroke-width="0.22">Distance (Kb)</text>
<text x="11.9" y="267.9" font-size="9.8" text-anchor="middle" fill="#262626" stroke="#262626" stroke-width="0.22" transform="rotate(-90 11.9 267.9)">TADadjR<tspan font-size="6.6" dy="-3.1">2</tspan></text>
<text x="11.9" y="430.2" font-size="9.8" text-anchor="middle" fill="#262626" stroke="#262626" stroke-width="0.22" transform="rotate(-90 11.9 430.2)">TADadjR<tspan font-size="6.6" dy="-3.1">2</tspan></text>
<text x="0.4" y="10.6" font-size="15.4" fill="#262626" stroke="#262626" stroke-width="0.3">A.</text>
<text x="119.1" y="20.4" font-size="6.3" font-weight="bold" text-anchor="middle" fill="#111" stroke="#111" stroke-width="0.15" textLength="14.2" lengthAdjust="spacingAndGlyphs">CTCF</text>
<clipPath id="clipA"><rect x="13.5" y="21.4" width="211.2" height="131.9"/></clipPath>
<g clip-path="url(#clipA)" fill="none" stroke-linejoin="round">
<path d="M17.50,100.15 C18.09,98.81 19.91,94.39 21.03,92.12 C22.15,89.84 23.17,87.84 24.24,86.50 C25.31,85.16 26.52,83.69 27.45,84.09 C28.39,84.49 29.06,84.89 29.86,88.91 C30.67,92.92 31.47,106.30 32.27,108.18 C33.07,110.05 33.88,103.76 34.68,100.15 C35.48,96.53 36.29,86.50 37.09,86.50 C37.89,86.50 38.56,95.73 39.50,100.15 C40.43,104.56 41.50,110.05 42.71,113.00 C43.91,115.94 45.25,116.74 46.72,117.81 C48.20,118.88 49.94,120.22 51.54,119.42 C53.15,118.62 54.89,117.55 56.36,113.00 C57.83,108.44 59.17,97.34 60.37,92.12 C61.58,86.90 62.52,81.68 63.59,81.68 C64.66,81.68 65.73,86.90 66.80,92.12 C67.87,97.34 68.94,108.18 70.01,113.00 C71.08,117.81 72.15,121.83 73.22,121.02 C74.29,120.22 75.50,113.53 76.43,108.18 C77.37,102.82 78.04,92.92 78.84,88.91 C79.65,84.89 80.18,84.89 81.25,84.09 C82.32,83.29 84.20,82.75 85.27,84.09 C86.34,85.43 86.87,88.10 87.67,92.12 C88.48,96.13 89.15,104.16 90.08,108.18 C91.02,112.19 91.96,114.33 93.30,116.21 C94.63,118.08 96.51,120.76 98.11,119.42 C99.72,118.08 101.59,112.73 102.93,108.18 C104.27,103.63 105.07,96.94 106.14,92.12 C107.21,87.30 108.42,79.27 109.35,79.27 C110.29,79.27 110.96,87.30 111.76,92.12 C112.57,96.94 112.29,104.43 114.17,108.18 C116.05,111.92 120.22,113.00 123.03,114.60 C125.84,116.21 128.38,117.55 131.06,117.81 C133.74,118.08 136.41,116.34 139.09,116.21 C141.77,116.07 144.44,117.01 147.12,117.01 C149.79,117.01 152.47,116.21 155.15,116.21 C157.82,116.21 160.50,117.01 163.18,117.01 C165.85,117.01 168.53,116.07 171.21,116.21 C173.88,116.34 176.56,117.55 179.24,117.81 C181.91,118.08 184.59,118.08 187.27,117.81 C189.94,117.55 192.62,116.74 195.30,116.21 C197.97,115.67 200.65,115.94 203.33,114.60 C206.00,113.26 209.35,112.19 211.35,108.18 C213.36,104.16 214.30,95.41 215.37,90.51 C216.44,85.61 216.98,78.79 217.78,78.79 C218.58,78.79 219.65,86.95 220.19,90.51 C220.72,94.07 220.86,98.54 220.99,100.15" stroke="#f4c0e2" stroke-width="0.6" stroke-dasharray="1.6 1.0"/>
<path d="M17.50,108.18 C18.35,107.64 20.98,104.16 22.64,104.97 C24.29,105.77 25.85,112.19 27.45,113.00 C29.06,113.80 30.40,110.85 32.27,109.78 C34.14,108.71 36.55,105.77 38.69,106.57 C40.84,107.37 42.98,114.33 45.12,114.60 C47.26,114.87 49.40,108.71 51.54,108.18 C53.68,107.64 55.82,111.66 57.97,111.39 C60.11,111.12 62.25,105.77 64.39,106.57 C66.53,107.37 68.67,115.14 70.81,116.21 C72.95,117.28 75.10,114.07 77.24,113.00 C79.38,111.92 81.52,110.85 83.66,109.78 C85.80,108.71 87.94,106.30 90.08,106.57 C92.22,106.84 94.37,111.12 96.51,111.39 C98.65,111.66 100.79,109.25 102.93,108.18 C105.07,107.11 107.48,104.43 109.35,104.97 C111.23,105.50 113.23,111.06 114.17,111.39 C115.11,111.72 114.71,108.82 115.00,106.92 C115.29,105.03 115.62,102.88 115.90,100.02 C116.18,97.16 116.43,93.61 116.70,89.77 C116.97,85.92 117.25,80.80 117.50,76.95 C117.75,73.10 117.99,69.24 118.20,66.65 C118.41,64.06 118.58,62.53 118.75,61.42 C118.92,60.31 119.05,59.93 119.20,60.00 C119.35,60.07 119.48,60.40 119.65,61.82 C119.82,63.24 119.99,65.20 120.20,68.52 C120.41,71.83 120.65,76.78 120.90,81.72 C121.15,86.66 121.43,93.21 121.70,98.14 C121.97,103.06 122.22,107.61 122.50,111.27 C122.78,114.94 122.51,117.69 123.40,120.12 C124.29,122.55 126.30,125.16 127.85,125.84 C129.39,126.53 130.79,125.57 132.67,124.24 C134.54,122.90 136.95,119.69 139.09,117.81 C141.23,115.94 143.37,113.80 145.51,113.00 C147.65,112.19 149.79,113.00 151.94,113.00 C154.08,113.00 156.22,110.59 158.36,113.00 C160.50,115.40 163.18,124.77 164.78,127.45 C166.39,130.12 166.66,130.39 168.00,129.05 C169.33,127.72 170.94,122.10 172.81,119.42 C174.69,116.74 177.10,114.87 179.24,113.00 C181.38,111.12 183.52,108.44 185.66,108.18 C187.80,107.91 189.94,111.12 192.08,111.39 C194.22,111.66 196.37,110.59 198.51,109.78 C200.65,108.98 202.79,106.30 204.93,106.57 C207.07,106.84 209.21,110.85 211.35,111.39 C213.50,111.92 216.17,110.32 217.78,109.78 C219.38,109.25 220.45,108.44 220.99,108.18" stroke="#bfe3f6" stroke-width="0.65" stroke-dasharray="1.8 0.8 0.5 0.8"/>
<path d="M17.34,117.17 C18.25,115.70 21.24,111.09 22.80,108.34 C24.35,105.58 25.34,102.07 26.65,100.63 C27.96,99.18 29.51,99.99 30.67,99.67 C31.82,99.34 32.59,99.29 33.56,98.70 C34.52,98.11 35.56,94.85 36.45,96.13 C37.33,97.42 38.11,103.23 38.86,106.41 C39.60,109.60 40.19,113.13 40.94,115.24 C41.69,117.36 42.63,119.74 43.35,119.10 C44.07,118.46 44.18,113.21 45.28,111.39 C46.38,109.57 48.36,107.91 49.94,108.18 C51.52,108.44 53.28,111.12 54.75,113.00 C56.23,114.87 57.43,119.42 58.77,119.42 C60.11,119.42 61.31,114.87 62.78,113.00 C64.26,111.12 65.73,110.05 67.60,108.18 C69.47,106.30 72.15,100.95 74.02,101.75 C75.90,102.56 77.24,109.25 78.84,113.00 C80.45,116.74 82.32,122.10 83.66,124.24 C85.00,126.38 85.53,128.52 86.87,125.84 C88.21,123.17 90.08,111.66 91.69,108.18 C93.30,104.70 94.63,105.23 96.51,104.97 C98.38,104.70 101.06,105.23 102.93,106.57 C104.80,107.91 106.41,109.52 107.75,113.00 C109.09,116.47 110.10,121.83 110.96,127.45 C111.82,133.07 112.05,144.88 112.89,146.72 C113.73,148.56 115.33,141.98 116.00,138.49 C116.67,135.00 116.62,131.03 116.90,125.76 C117.18,120.49 117.43,113.95 117.70,106.86 C117.97,99.78 118.25,90.35 118.50,83.24 C118.75,76.14 118.99,69.02 119.20,64.25 C119.41,59.48 119.58,56.66 119.75,54.62 C119.92,52.58 120.05,52.13 120.20,52.00 C120.35,51.87 120.48,52.41 120.65,53.86 C120.82,55.32 120.99,57.32 121.20,60.72 C121.41,64.12 121.65,69.18 121.90,74.24 C122.15,79.29 122.43,86.01 122.70,91.05 C122.97,96.09 123.22,100.75 123.50,104.50 C123.78,108.25 123.94,111.07 124.40,113.56 C124.86,116.05 125.13,118.98 126.24,119.42 C127.35,119.86 129.19,117.81 131.06,116.21 C132.93,114.60 136.01,112.19 137.48,109.78 C138.95,107.37 138.95,102.02 139.89,101.75 C140.83,101.49 141.63,106.30 143.10,108.18 C144.58,110.05 146.98,113.00 148.72,113.00 C150.46,113.00 151.94,108.18 153.54,108.18 C155.15,108.18 156.75,111.39 158.36,113.00 C159.97,114.60 161.57,116.47 163.18,117.81 C164.78,119.15 166.39,119.95 168.00,121.02 C169.60,122.10 171.21,124.50 172.81,124.24 C174.42,123.97 176.02,122.10 177.63,119.42 C179.24,116.74 180.84,110.59 182.45,108.18 C184.05,105.77 185.66,104.43 187.27,104.97 C188.87,105.50 190.48,110.05 192.08,111.39 C193.69,112.73 195.30,113.00 196.90,113.00 C198.51,113.00 200.11,112.19 201.72,111.39 C203.33,110.59 204.93,110.85 206.54,108.18 C208.14,105.50 210.28,97.74 211.35,95.33 C212.43,92.92 212.29,92.65 212.96,93.72 C213.63,94.79 214.57,99.34 215.37,101.75 C216.17,104.16 216.84,109.78 217.78,108.18 C218.72,106.57 220.45,94.79 220.99,92.12" stroke="#eee670" stroke-width="0.7" stroke-dasharray="1.2 0.9"/>
<path d="M17.50,108.18 C18.09,108.71 19.77,109.52 21.03,111.39 C22.29,113.26 23.71,116.88 25.04,119.42 C26.38,121.96 27.85,126.38 29.06,126.65 C30.26,126.91 31.20,124.10 32.27,121.02 C33.34,117.95 34.41,111.66 35.48,108.18 C36.55,104.70 37.49,100.95 38.69,100.15 C39.90,99.34 41.37,101.22 42.71,103.36 C44.05,105.50 45.25,111.12 46.72,113.00 C48.20,114.87 49.94,115.40 51.54,114.60 C53.15,113.80 54.75,108.98 56.36,108.18 C57.97,107.37 59.57,108.98 61.18,109.78 C62.78,110.59 64.39,113.26 66.00,113.00 C67.60,112.73 69.21,109.25 70.81,108.18 C72.42,107.11 74.02,106.30 75.63,106.57 C77.24,106.84 78.84,109.52 80.45,109.78 C82.05,110.05 83.66,108.18 85.27,108.18 C86.87,108.18 88.48,109.78 90.08,109.78 C91.69,109.78 93.16,108.18 94.90,108.18 C96.64,108.18 98.65,109.25 100.52,109.78 C102.40,110.32 104.40,110.85 106.14,111.39 C107.88,111.92 109.62,111.92 110.96,113.00 C112.30,114.07 113.55,118.22 114.17,117.81 C114.80,117.40 114.46,113.62 114.70,110.53 C114.94,107.44 115.32,103.93 115.60,99.27 C115.88,94.60 116.13,88.82 116.40,82.55 C116.67,76.28 116.95,67.93 117.20,61.65 C117.45,55.36 117.69,49.06 117.90,44.84 C118.11,40.62 118.28,38.12 118.45,36.32 C118.62,34.51 118.75,34.01 118.90,34.00 C119.05,33.99 119.18,34.50 119.35,36.27 C119.52,38.05 119.69,40.49 119.90,44.63 C120.11,48.77 120.35,54.95 120.60,61.12 C120.85,67.28 121.13,75.47 121.40,81.62 C121.67,87.77 121.92,93.44 122.20,98.02 C122.48,102.59 122.43,106.03 123.10,109.06 C123.77,112.10 124.91,114.21 126.24,116.21 C127.57,118.20 129.19,121.56 131.06,121.02 C132.93,120.49 135.61,116.47 137.48,113.00 C139.36,109.52 140.83,104.97 142.30,100.15 C143.77,95.33 145.11,88.37 146.32,84.09 C147.52,79.81 148.46,74.45 149.53,74.45 C150.60,74.45 151.67,79.00 152.74,84.09 C153.81,89.17 154.75,100.15 155.95,104.97 C157.16,109.78 158.49,112.46 159.97,113.00 C161.44,113.53 163.18,109.52 164.78,108.18 C166.39,106.84 168.00,104.97 169.60,104.97 C171.21,104.97 172.81,108.18 174.42,108.18 C176.02,108.18 177.63,105.77 179.24,104.97 C180.84,104.16 182.45,103.09 184.05,103.36 C185.66,103.63 187.27,106.30 188.87,106.57 C190.48,106.84 192.08,104.43 193.69,104.97 C195.30,105.50 196.63,108.71 198.51,109.78 C200.38,110.85 202.79,111.66 204.93,111.39 C207.07,111.12 209.21,108.18 211.35,108.18 C213.50,108.18 216.17,110.59 217.78,111.39 C219.38,112.19 220.45,112.73 220.99,113.00" stroke="#ebb050" stroke-width="0.75" stroke-dasharray="2.2 0.9 0.6 0.9"/>
<path d="M17.50,103.36 C18.35,103.63 20.98,103.63 22.64,104.97 C24.29,106.30 25.85,109.65 27.45,111.39 C29.06,113.13 30.67,115.14 32.27,115.40 C33.88,115.67 35.35,114.47 37.09,113.00 C38.83,111.52 40.97,107.78 42.71,106.57 C44.45,105.37 45.79,105.23 47.53,105.77 C49.27,106.30 51.41,109.38 53.15,109.78 C54.89,110.18 56.09,108.71 57.97,108.18 C59.84,107.64 62.52,106.57 64.39,106.57 C66.26,106.57 67.47,108.18 69.21,108.18 C70.95,108.18 72.95,106.30 74.83,106.57 C76.70,106.84 78.71,109.52 80.45,109.78 C82.19,110.05 83.66,107.64 85.27,108.18 C86.87,108.71 88.48,112.73 90.08,113.00 C91.69,113.26 93.16,110.59 94.90,109.78 C96.64,108.98 98.65,107.91 100.52,108.18 C102.40,108.44 104.27,110.59 106.14,111.39 C108.02,112.19 110.39,113.97 111.76,113.00 C113.14,112.02 113.81,108.72 114.40,105.57 C114.99,102.41 115.02,98.83 115.30,94.08 C115.58,89.32 115.83,83.42 116.10,77.02 C116.37,70.62 116.65,62.11 116.90,55.70 C117.15,49.29 117.39,42.86 117.60,38.56 C117.81,34.25 117.98,31.71 118.15,29.86 C118.32,28.02 118.45,27.52 118.60,27.50 C118.75,27.48 118.88,27.99 119.05,29.73 C119.22,31.47 119.39,33.87 119.60,37.93 C119.81,42.00 120.05,48.06 120.30,54.11 C120.55,60.16 120.83,68.19 121.10,74.23 C121.37,80.27 121.62,85.84 121.90,90.32 C122.18,94.81 122.21,98.19 122.80,101.17 C123.39,104.14 124.33,107.28 125.44,108.18 C126.55,109.08 128.11,105.77 129.45,106.57 C130.79,107.37 132.13,111.66 133.47,113.00 C134.81,114.33 136.01,115.40 137.48,114.60 C138.95,113.80 140.83,109.52 142.30,108.18 C143.77,106.84 145.11,105.77 146.32,106.57 C147.52,107.37 148.32,111.66 149.53,113.00 C150.73,114.33 152.20,115.14 153.54,114.60 C154.88,114.07 156.22,111.12 157.56,109.78 C158.89,108.44 160.23,107.37 161.57,106.57 C162.91,105.77 164.25,104.70 165.59,104.97 C166.92,105.23 168.26,107.11 169.60,108.18 C170.94,109.25 172.28,111.39 173.62,111.39 C174.95,111.39 176.16,109.52 177.63,108.18 C179.10,106.84 181.11,104.30 182.45,103.36 C183.79,102.42 184.32,102.02 185.66,102.56 C187.00,103.09 188.87,105.63 190.48,106.57 C192.08,107.51 193.69,107.64 195.30,108.18 C196.90,108.71 198.64,109.25 200.11,109.78 C201.59,110.32 202.79,111.39 204.13,111.39 C205.47,111.39 206.94,110.32 208.14,109.78 C209.35,109.25 210.02,107.91 211.35,108.18 C212.69,108.44 214.57,111.39 216.17,111.39 C217.78,111.39 220.19,108.71 220.99,108.18" stroke="#e88a48" stroke-width="0.75" stroke-dasharray="2.2 0.9 0.6 0.9"/>
<path d="M17.50,111.39 C18.09,112.46 19.77,117.14 21.03,117.81 C22.29,118.48 23.84,117.28 25.04,115.40 C26.25,113.53 27.05,108.71 28.26,106.57 C29.46,104.43 30.93,102.69 32.27,102.56 C33.61,102.42 35.08,104.03 36.29,105.77 C37.49,107.51 38.43,110.18 39.50,113.00 C40.57,115.81 41.50,120.49 42.71,122.63 C43.91,124.77 45.52,126.11 46.72,125.84 C47.93,125.57 49.00,123.17 49.94,121.02 C50.87,118.88 51.54,115.14 52.34,113.00 C53.15,110.85 53.55,109.52 54.75,108.18 C55.96,106.84 57.97,105.63 59.57,104.97 C61.18,104.30 63.05,103.89 64.39,104.16 C65.73,104.43 66.40,105.63 67.60,106.57 C68.81,107.51 70.41,108.18 71.62,109.78 C72.82,111.39 73.76,113.80 74.83,116.21 C75.90,118.62 76.97,124.77 78.04,124.24 C79.11,123.70 80.31,116.47 81.25,113.00 C82.19,109.52 82.72,104.16 83.66,103.36 C84.60,102.56 85.80,107.37 86.87,108.18 C87.94,108.98 88.88,109.78 90.08,108.18 C91.29,106.57 92.76,99.08 94.10,98.54 C95.44,98.01 96.91,104.43 98.11,104.97 C99.32,105.50 100.12,102.82 101.33,101.75 C102.53,100.68 103.87,100.28 105.34,98.54 C106.81,96.80 108.95,91.05 110.16,91.32 C111.36,91.58 111.84,97.34 112.57,100.15 C113.29,102.96 114.09,107.72 114.49,108.18 C114.90,108.64 114.77,105.14 115.00,102.91 C115.23,100.67 115.62,98.13 115.90,94.75 C116.18,91.37 116.43,87.18 116.70,82.65 C116.97,78.11 117.25,72.06 117.50,67.52 C117.75,62.97 117.99,58.40 118.20,55.35 C118.41,52.29 118.58,50.49 118.75,49.18 C118.92,47.87 119.05,47.51 119.20,47.50 C119.35,47.49 119.48,47.86 119.65,49.13 C119.82,50.41 119.99,52.17 120.20,55.14 C120.41,58.12 120.65,62.56 120.90,66.99 C121.15,71.41 121.43,77.30 121.70,81.72 C121.97,86.13 122.22,90.21 122.50,93.50 C122.78,96.79 122.51,99.26 123.40,101.44 C124.29,103.62 126.57,105.98 127.85,106.57 C129.12,107.16 129.85,104.70 131.06,104.97 C132.26,105.23 133.87,106.84 135.07,108.18 C136.28,109.52 137.08,111.39 138.29,113.00 C139.49,114.60 140.83,115.94 142.30,117.81 C143.77,119.69 145.78,122.90 147.12,124.24 C148.46,125.57 149.26,126.91 150.33,125.84 C151.40,124.77 152.34,121.02 153.54,117.81 C154.75,114.60 156.22,109.78 157.56,106.57 C158.89,103.36 160.10,100.55 161.57,98.54 C163.04,96.53 164.92,95.46 166.39,94.53 C167.86,93.59 169.07,92.79 170.40,92.92 C171.74,93.05 173.35,93.86 174.42,95.33 C175.49,96.80 176.02,99.08 176.83,101.75 C177.63,104.43 178.30,108.71 179.24,111.39 C180.17,114.07 181.38,118.35 182.45,117.81 C183.52,117.28 184.72,110.59 185.66,108.18 C186.60,105.77 187.13,102.82 188.07,103.36 C189.01,103.89 190.34,108.44 191.28,111.39 C192.22,114.33 192.75,119.95 193.69,121.02 C194.63,122.10 195.70,119.42 196.90,117.81 C198.11,116.21 199.58,112.73 200.92,111.39 C202.25,110.05 203.59,108.98 204.93,109.78 C206.27,110.59 207.74,111.92 208.95,116.21 C210.15,120.49 211.09,134.14 212.16,135.48 C213.23,136.82 214.43,128.79 215.37,124.24 C216.31,119.69 216.98,112.19 217.78,108.18 C218.58,104.16 219.65,102.02 220.19,100.15 C220.72,98.27 220.86,97.47 220.99,96.94" stroke="#52c49e" stroke-width="0.95"/>
<path d="M17.50,108.18 C17.95,108.18 19.10,107.37 20.23,108.18 C21.35,108.98 22.77,110.85 24.24,113.00 C25.71,115.14 27.59,120.76 29.06,121.02 C30.53,121.29 31.60,116.74 33.07,114.60 C34.55,112.46 36.42,108.44 37.89,108.18 C39.36,107.91 40.57,111.39 41.91,113.00 C43.24,114.60 44.58,118.35 45.92,117.81 C47.26,117.28 48.46,112.33 49.94,109.78 C51.41,107.24 53.28,102.82 54.75,102.56 C56.23,102.29 57.30,104.83 58.77,108.18 C60.24,111.52 62.11,121.83 63.59,122.63 C65.06,123.43 66.26,115.40 67.60,113.00 C68.94,110.59 70.41,108.98 71.62,108.18 C72.82,107.37 73.62,107.37 74.83,108.18 C76.03,108.98 77.64,112.73 78.84,113.00 C80.05,113.26 80.85,110.72 82.05,109.78 C83.26,108.85 84.86,107.64 86.07,107.37 C87.27,107.11 88.08,107.51 89.28,108.18 C90.49,108.85 91.96,111.66 93.30,111.39 C94.63,111.12 96.11,107.64 97.31,106.57 C98.51,105.50 99.18,104.70 100.52,104.97 C101.86,105.23 103.87,108.58 105.34,108.18 C106.81,107.78 108.28,102.82 109.35,102.56 C110.43,102.29 110.96,104.03 111.76,106.57 C112.57,109.11 113.63,116.75 114.17,117.81 C114.71,118.88 114.71,115.02 115.00,112.96 C115.29,110.91 115.62,108.57 115.90,105.46 C116.18,102.36 116.43,98.50 116.70,94.33 C116.97,90.15 117.25,84.60 117.50,80.41 C117.75,76.23 117.99,72.03 118.20,69.22 C118.41,66.41 118.58,64.75 118.75,63.54 C118.92,62.34 119.05,62.10 119.20,62.00 C119.35,61.90 119.48,62.21 119.65,62.97 C119.82,63.72 119.99,64.76 120.20,66.52 C120.41,68.28 120.65,70.90 120.90,73.52 C121.15,76.14 121.43,79.62 121.70,82.24 C121.97,84.85 122.22,87.26 122.50,89.21 C122.78,91.15 122.64,92.61 123.40,93.90 C124.16,95.19 126.04,94.56 127.04,96.94 C128.05,99.32 128.65,103.63 129.45,108.18 C130.26,112.73 131.06,119.42 131.86,124.24 C132.67,129.05 133.33,137.08 134.27,137.08 C135.21,137.08 136.41,129.05 137.48,124.24 C138.55,119.42 139.62,113.53 140.69,108.18 C141.77,102.82 142.97,98.01 143.91,92.12 C144.84,86.23 145.46,77.61 146.32,72.85 C147.17,68.08 148.11,63.53 149.05,63.53 C149.98,63.53 151.05,68.08 151.94,72.85 C152.82,77.61 153.54,86.23 154.34,92.12 C155.15,98.01 155.82,103.36 156.75,108.18 C157.69,113.00 158.89,117.68 159.97,121.02 C161.04,124.37 162.24,126.78 163.18,128.25 C164.11,129.72 164.65,130.53 165.59,129.86 C166.52,129.19 167.73,126.78 168.80,124.24 C169.87,121.69 170.94,116.74 172.01,114.60 C173.08,112.46 174.15,112.19 175.22,111.39 C176.29,110.59 177.23,110.85 178.43,109.78 C179.64,108.71 181.24,106.04 182.45,104.97 C183.65,103.89 184.59,102.82 185.66,103.36 C186.73,103.89 187.80,106.84 188.87,108.18 C189.94,109.52 191.01,111.66 192.08,111.39 C193.15,111.12 194.22,106.57 195.30,106.57 C196.37,106.57 197.44,109.78 198.51,111.39 C199.58,113.00 200.65,115.94 201.72,116.21 C202.79,116.47 203.73,114.60 204.93,113.00 C206.14,111.39 207.74,108.31 208.95,106.57 C210.15,104.83 211.09,102.82 212.16,102.56 C213.23,102.29 214.30,104.03 215.37,104.97 C216.44,105.90 217.64,107.64 218.58,108.18 C219.52,108.71 220.59,108.18 220.99,108.18" stroke="#404040" stroke-width="0.9" stroke-dasharray="1.9 1.0"/>
<path d="M17.50,96.94 C17.95,96.00 19.24,91.58 20.23,91.32 C21.22,91.05 22.37,93.05 23.44,95.33 C24.51,97.61 25.58,102.29 26.65,104.97 C27.72,107.64 28.93,110.05 29.86,111.39 C30.80,112.73 31.33,113.53 32.27,113.00 C33.21,112.46 34.28,110.45 35.48,108.18 C36.69,105.90 38.29,100.28 39.50,99.34 C40.70,98.41 41.64,100.82 42.71,102.56 C43.78,104.30 44.98,108.31 45.92,109.78 C46.86,111.26 47.39,112.33 48.33,111.39 C49.27,110.45 50.61,106.09 51.54,104.16 C52.48,102.24 53.01,99.83 53.95,99.83 C54.89,99.83 55.96,102.24 57.16,104.16 C58.37,106.09 59.84,111.74 61.18,111.39 C62.52,111.04 63.99,102.61 65.19,102.07 C66.40,101.54 67.33,106.36 68.40,108.18 C69.47,110.00 70.55,113.00 71.62,113.00 C72.69,113.00 73.89,106.84 74.83,108.18 C75.76,109.52 76.51,118.13 77.24,121.02 C77.96,123.92 78.36,125.79 79.16,125.52 C79.97,125.25 81.17,122.58 82.05,119.42 C82.94,116.26 83.39,108.44 84.46,106.57 C85.53,104.70 87.01,107.11 88.48,108.18 C89.95,109.25 91.96,112.73 93.30,113.00 C94.63,113.26 95.30,110.32 96.51,109.78 C97.71,109.25 99.32,108.18 100.52,109.78 C101.73,111.39 102.66,115.94 103.73,119.42 C104.80,122.90 106.01,130.39 106.95,130.66 C107.88,130.93 108.55,124.77 109.35,121.02 C110.16,117.28 110.96,110.59 111.76,108.18 C112.57,105.77 113.63,107.73 114.17,106.57 C114.71,105.42 114.71,103.51 115.00,101.25 C115.29,98.99 115.62,96.42 115.90,93.01 C116.18,89.60 116.43,85.37 116.70,80.79 C116.97,76.21 117.25,70.11 117.50,65.51 C117.75,60.92 117.99,56.31 118.20,53.22 C118.41,50.14 118.58,48.32 118.75,46.99 C118.92,45.67 119.05,45.31 119.20,45.30 C119.35,45.29 119.48,45.66 119.65,46.95 C119.82,48.24 119.99,50.01 120.20,53.02 C120.41,56.02 120.65,60.51 120.90,64.98 C121.15,69.46 121.43,75.40 121.70,79.86 C121.97,84.32 122.22,88.44 122.50,91.76 C122.78,95.08 122.78,97.58 123.40,99.78 C124.02,101.98 125.23,103.03 126.24,104.97 C127.25,106.90 128.38,108.98 129.45,111.39 C130.52,113.80 131.73,117.01 132.67,119.42 C133.60,121.83 134.14,126.65 135.07,125.84 C136.01,125.04 137.22,117.81 138.29,114.60 C139.36,111.39 140.43,108.71 141.50,106.57 C142.57,104.43 143.77,102.82 144.71,101.75 C145.65,100.68 146.32,99.34 147.12,100.15 C147.92,100.95 148.72,102.29 149.53,106.57 C150.33,110.85 151.13,123.97 151.94,125.84 C152.74,127.72 153.41,120.76 154.34,117.81 C155.28,114.87 156.49,109.78 157.56,108.18 C158.63,106.57 159.70,107.37 160.77,108.18 C161.84,108.98 162.91,111.39 163.98,113.00 C165.05,114.60 166.12,118.88 167.19,117.81 C168.26,116.74 169.33,107.37 170.40,106.57 C171.47,105.77 172.55,110.85 173.62,113.00 C174.69,115.14 175.76,122.10 176.83,119.42 C177.90,116.74 179.10,99.34 180.04,96.94 C180.98,94.53 181.65,101.22 182.45,104.97 C183.25,108.71 184.05,118.88 184.86,119.42 C185.66,119.95 186.46,110.85 187.27,108.18 C188.07,105.50 188.87,102.56 189.67,103.36 C190.48,104.16 191.15,110.05 192.08,113.00 C193.02,115.94 194.22,119.15 195.30,121.02 C196.37,122.90 197.44,123.97 198.51,124.24 C199.58,124.50 200.65,123.43 201.72,122.63 C202.79,121.83 203.86,121.56 204.93,119.42 C206.00,117.28 207.07,111.66 208.14,109.78 C209.21,107.91 210.28,108.18 211.35,108.18 C212.43,108.18 213.50,110.59 214.57,109.78 C215.64,108.98 216.71,105.77 217.78,103.36 C218.85,100.95 220.45,96.67 220.99,95.33" stroke="#4399cd" stroke-width="1.0"/>
</g>
<rect x="13.5" y="21.4" width="211.2" height="131.9" fill="none" stroke="#cfcfcf" stroke-width="0.9"/>
<line x1="11.9" y1="30.1" x2="13.5" y2="30.1" stroke="#666" stroke-width="0.5"/>
<text x="11.1" y="31.6" font-size="4.3" text-anchor="end" fill="#444">6</text>
<line x1="11.9" y1="56.6" x2="13.5" y2="56.6" stroke="#666" stroke-width="0.5"/>
<text x="11.1" y="58.1" font-size="4.3" text-anchor="end" fill="#444">4</text>
<line x1="11.9" y1="83.1" x2="13.5" y2="83.1" stroke="#666" stroke-width="0.5"/>
<text x="11.1" y="84.6" font-size="4.3" text-anchor="end" fill="#444">2</text>
<line x1="11.9" y1="109.6" x2="13.5" y2="109.6" stroke="#666" stroke-width="0.5"/>
<text x="11.1" y="111.1" font-size="4.3" text-anchor="end" fill="#444">0</text>
<line x1="11.9" y1="136.1" x2="13.5" y2="136.1" stroke="#666" stroke-width="0.5"/>
<text x="11.1" y="137.6" font-size="4.3" text-anchor="end" fill="#444">−2</text>
<line x1="17.5" y1="153.3" x2="17.5" y2="154.9" stroke="#666" stroke-width="0.5"/>
<text x="17.5" y="157.9" font-size="4.3" text-anchor="middle" fill="#444">−250</text>
<line x1="58.1" y1="153.3" x2="58.1" y2="154.9" stroke="#666" stroke-width="0.5"/>
<text x="58.1" y="157.9" font-size="4.3" text-anchor="middle" fill="#444">−150</text>
<line x1="98.8" y1="153.3" x2="98.8" y2="154.9" stroke="#666" stroke-width="0.5"/>
<text x="98.8" y="157.9" font-size="4.3" text-anchor="middle" fill="#444">−50</text>
<line x1="119.1" y1="153.3" x2="119.1" y2="154.9" stroke="#666" stroke-width="0.5"/>
<text x="119.1" y="157.9" font-size="4.3" text-anchor="middle" fill="#444">0</text>
<line x1="139.4" y1="153.3" x2="139.4" y2="154.9" stroke="#666" stroke-width="0.5"/>
<text x="139.4" y="157.9" font-size="4.3" text-anchor="middle" fill="#444">50</text>
<line x1="180.1" y1="153.3" x2="180.1" y2="154.9" stroke="#666" stroke-width="0.5"/>
<text x="180.1" y="157.9" font-size="4.3" text-anchor="middle" fill="#444">150</text>
<line x1="220.7" y1="153.3" x2="220.7" y2="154.9" stroke="#666" stroke-width="0.5"/>
<text x="220.7" y="157.9" font-size="4.3" text-anchor="middle" fill="#444">250</text>
<text x="119.1" y="162.5" font-size="4.8" text-anchor="middle" fill="#262626" stroke="#262626" stroke-width="0.1">Distance from TAD boundary (Kb)</text>
<text x="3.9" y="88.4" font-size="4.7" text-anchor="middle" fill="#262626" stroke="#262626" stroke-width="0.1" transform="rotate(-90 3.9 88.4)">Normalized Avg. Signal</text>
<line x1="150.7" y1="26.8" x2="158.7" y2="26.8" stroke="#404040" stroke-width="1.26" stroke-dasharray="1.9 1.0" opacity="0.9"/>
<text x="161.5" y="28.3" font-size="4.1" fill="#333" stroke="#333" stroke-width="0.08">TopDom</text>
<line x1="150.7" y1="32.5" x2="158.7" y2="32.5" stroke="#ebb050" stroke-width="1.05" stroke-dasharray="2.2 0.9 0.6 0.9" opacity="0.9"/>
<text x="161.5" y="34.0" font-size="4.1" fill="#333" stroke="#333" stroke-width="0.08">HiCseg</text>
<line x1="150.7" y1="38.2" x2="158.7" y2="38.2" stroke="#bfe3f6" stroke-width="0.91" stroke-dasharray="1.8 0.8 0.5 0.8" opacity="0.9"/>
<text x="161.5" y="39.7" font-size="4.1" fill="#333" stroke="#333" stroke-width="0.08">Spectral</text>
<line x1="150.7" y1="43.8" x2="158.7" y2="43.8" stroke="#52c49e" stroke-width="1.33" opacity="0.9"/>
<text x="161.5" y="45.3" font-size="4.1" fill="#333" stroke="#333" stroke-width="0.08">ClusterTAD</text>
<line x1="190.0" y1="26.8" x2="198.0" y2="26.8" stroke="#eee670" stroke-width="0.98" stroke-dasharray="1.2 0.9" opacity="0.9"/>
<text x="200.8" y="28.3" font-size="4.1" fill="#333" stroke="#333" stroke-width="0.08">Armatus</text>
<line x1="190.0" y1="32.5" x2="198.0" y2="32.5" stroke="#e88a48" stroke-width="1.05" stroke-dasharray="2.2 0.9 0.6 0.9" opacity="0.9"/>
<text x="200.8" y="34.0" font-size="4.1" fill="#333" stroke="#333" stroke-width="0.08">IC-Finder</text>
<line x1="190.0" y1="38.2" x2="198.0" y2="38.2" stroke="#f4c0e2" stroke-width="0.84" stroke-dasharray="1.6 1.0" opacity="0.9"/>
<text x="200.8" y="39.7" font-size="4.1" fill="#333" stroke="#333" stroke-width="0.08">Caspian</text>
<line x1="190.0" y1="43.8" x2="198.0" y2="43.8" stroke="#4399cd" stroke-width="1.40" opacity="0.9"/>
<text x="200.8" y="45.3" font-size="4.1" fill="#333" stroke="#333" stroke-width="0.08">EmbedTAD</text>
<text x="229.8" y="12.8" font-size="15.4" fill="#262626" stroke="#262626" stroke-width="0.3">B.</text>
<text x="348.5" y="19.8" font-size="6.3" font-weight="bold" text-anchor="middle" fill="#111" stroke="#111" stroke-width="0.15" textLength="19.0" lengthAdjust="spacingAndGlyphs">RAD21</text>
<clipPath id="clipB"><rect x="242.6" y="20.8" width="211.79999999999998" height="131.5"/></clipPath>
<g clip-path="url(#clipB)" fill="none" stroke-linejoin="round">
<path d="M246.50,108.18 C247.35,108.18 250.11,109.52 251.64,108.18 C253.16,106.84 254.71,104.97 255.65,100.15 C256.59,95.33 256.72,84.36 257.26,79.27 C257.79,74.19 258.33,69.64 258.86,69.64 C259.40,69.64 259.93,73.38 260.47,79.27 C261.00,85.16 261.54,102.82 262.07,104.97 C262.61,107.11 263.14,96.94 263.68,92.12 C264.22,87.30 264.75,79.81 265.29,76.06 C265.82,72.31 266.36,69.10 266.89,69.64 C267.43,70.17 267.96,73.38 268.50,79.27 C269.03,85.16 269.43,99.61 270.10,104.97 C270.77,110.32 271.31,110.05 272.51,111.39 C273.72,112.73 275.46,113.00 277.33,113.00 C279.20,113.00 281.61,111.92 283.75,111.39 C285.89,110.85 288.04,110.32 290.18,109.78 C292.32,109.25 294.46,108.44 296.60,108.18 C298.74,107.91 301.15,109.52 303.02,108.18 C304.90,106.84 306.72,105.50 307.84,100.15 C308.97,94.79 309.18,82.75 309.77,76.06 C310.36,69.37 310.87,63.61 311.38,60.00 C311.88,56.39 312.34,55.45 312.82,54.38 C313.30,53.31 313.78,53.44 314.27,53.58 C314.75,53.71 315.23,53.58 315.71,55.18 C316.19,56.79 316.65,57.06 317.16,63.21 C317.67,69.37 318.17,83.55 318.76,92.12 C319.35,100.68 319.83,110.59 320.69,114.60 C321.55,118.62 322.56,116.47 323.90,116.21 C325.24,115.94 327.38,114.33 328.72,113.00 C330.06,111.66 330.99,113.00 331.93,108.18 C332.87,103.36 333.54,90.51 334.34,84.09 C335.14,77.67 336.08,69.64 336.75,69.64 C337.42,69.64 337.82,77.67 338.35,84.09 C338.89,90.51 339.29,103.36 339.96,108.18 C340.63,113.00 339.55,112.19 342.37,113.00 C345.18,113.80 352.83,113.00 356.85,113.00 C360.87,113.00 363.27,113.00 366.48,113.00 C369.69,113.00 372.91,113.00 376.12,113.00 C379.33,113.00 382.54,113.00 385.75,113.00 C388.97,113.00 392.18,113.00 395.39,113.00 C398.60,113.00 401.81,113.00 405.02,113.00 C408.24,113.00 411.45,113.00 414.66,113.00 C417.87,113.00 421.08,113.00 424.30,113.00 C427.51,113.00 430.72,113.00 433.93,113.00 C437.14,113.00 440.89,113.00 443.57,113.00 C446.24,113.00 448.92,113.00 449.99,113.00" stroke="#f4c0e2" stroke-width="0.6" stroke-dasharray="1.6 1.0"/>
<path d="M246.50,104.97 C247.35,104.16 249.98,99.61 251.64,100.15 C253.29,100.68 254.85,106.04 256.45,108.18 C258.06,110.32 259.40,113.00 261.27,113.00 C263.14,113.00 265.55,108.18 267.69,108.18 C269.84,108.18 271.98,112.73 274.12,113.00 C276.26,113.26 278.40,110.59 280.54,109.78 C282.68,108.98 284.82,107.64 286.97,108.18 C289.11,108.71 291.25,112.73 293.39,113.00 C295.53,113.26 297.67,110.59 299.81,109.78 C301.95,108.98 304.10,107.91 306.24,108.18 C308.38,108.44 310.52,111.66 312.66,111.39 C314.80,111.12 316.94,106.84 319.08,106.57 C321.22,106.30 323.37,108.71 325.51,109.78 C327.65,110.85 329.79,113.26 331.93,113.00 C334.07,112.73 336.48,108.71 338.35,108.18 C340.23,107.64 342.16,110.15 343.17,109.78 C344.18,109.42 344.05,107.59 344.40,105.98 C344.75,104.36 345.02,102.53 345.30,100.09 C345.58,97.66 345.83,94.64 346.10,91.36 C346.37,88.08 346.65,83.73 346.90,80.44 C347.15,77.16 347.39,73.87 347.60,71.66 C347.81,69.46 347.98,68.15 348.15,67.21 C348.32,66.27 348.45,65.92 348.60,66.00 C348.75,66.08 348.88,66.37 349.05,67.70 C349.22,69.02 349.39,70.85 349.60,73.95 C349.81,77.04 350.05,81.66 350.30,86.27 C350.55,90.88 350.83,97.00 351.10,101.59 C351.37,106.19 351.62,110.43 351.90,113.85 C352.18,117.27 352.51,119.84 352.80,122.11 C353.09,124.38 352.96,126.02 353.64,127.45 C354.31,128.87 355.51,131.20 356.85,130.66 C358.19,130.12 359.79,126.65 361.67,124.24 C363.54,121.83 365.95,118.35 368.09,116.21 C370.23,114.07 372.37,111.92 374.51,111.39 C376.65,110.85 378.79,112.19 380.94,113.00 C383.08,113.80 385.22,114.60 387.36,116.21 C389.50,117.81 392.18,120.76 393.78,122.63 C395.39,124.50 395.39,128.25 397.00,127.45 C398.60,126.65 400.74,118.35 403.42,117.81 C406.10,117.28 410.38,125.04 413.05,124.24 C415.73,123.43 417.07,115.67 419.48,113.00 C421.89,110.32 425.10,108.44 427.51,108.18 C429.92,107.91 431.79,111.39 433.93,111.39 C436.07,111.39 438.21,108.18 440.35,108.18 C442.50,108.18 445.17,111.12 446.78,111.39 C448.38,111.66 449.45,110.05 449.99,109.78" stroke="#bfe3f6" stroke-width="0.65" stroke-dasharray="1.8 0.8 0.5 0.8"/>
<path d="M246.50,116.21 C247.35,114.07 249.98,106.30 251.64,103.36 C253.29,100.42 254.85,100.42 256.45,98.54 C258.06,96.67 259.93,93.86 261.27,92.12 C262.61,90.38 263.55,88.10 264.48,88.10 C265.42,88.10 266.09,88.77 266.89,92.12 C267.69,95.46 268.63,101.75 269.30,108.18 C269.97,114.60 270.50,126.38 270.91,130.66 C271.31,134.94 271.17,134.94 271.71,133.87 C272.24,132.80 273.18,128.52 274.12,124.24 C275.05,119.95 275.99,110.85 277.33,108.18 C278.67,105.50 280.81,106.04 282.15,108.18 C283.49,110.32 284.29,117.55 285.36,121.02 C286.43,124.50 287.77,127.98 288.57,129.05 C289.37,130.12 289.37,129.86 290.18,127.45 C290.98,125.04 292.32,117.81 293.39,114.60 C294.46,111.39 295.00,107.64 296.60,108.18 C298.21,108.71 301.42,117.81 303.02,117.81 C304.63,117.81 305.17,110.59 306.24,108.18 C307.31,105.77 308.38,102.82 309.45,103.36 C310.52,103.89 311.72,107.64 312.66,111.39 C313.60,115.14 314.27,125.57 315.07,125.84 C315.87,126.11 316.54,117.55 317.48,113.00 C318.41,108.44 319.62,100.95 320.69,98.54 C321.76,96.13 322.83,97.47 323.90,98.54 C324.97,99.61 325.91,103.36 327.11,104.97 C328.32,106.57 329.79,107.64 331.13,108.18 C332.47,108.71 333.94,107.37 335.14,108.18 C336.35,108.98 337.28,109.78 338.35,113.00 C339.43,116.21 340.76,122.90 341.57,127.45 C342.37,132.00 342.74,137.35 343.17,140.30 C343.60,143.24 343.80,145.51 344.14,145.11 C344.47,144.71 344.87,140.96 345.20,137.89 C345.53,134.83 345.82,131.35 346.10,126.72 C346.38,122.10 346.63,116.36 346.90,110.14 C347.17,103.92 347.45,95.65 347.70,89.42 C347.95,83.18 348.19,76.94 348.40,72.75 C348.61,68.56 348.78,66.09 348.95,64.30 C349.12,62.51 349.25,62.11 349.40,62.00 C349.55,61.89 349.68,62.36 349.85,63.63 C350.02,64.90 350.19,66.66 350.40,69.63 C350.61,72.61 350.85,77.04 351.10,81.47 C351.35,85.90 351.63,91.77 351.90,96.19 C352.17,100.60 352.42,104.68 352.70,107.96 C352.98,111.25 353.18,113.72 353.60,115.90 C354.02,118.07 354.16,121.51 355.24,121.02 C356.32,120.54 358.45,115.67 360.06,113.00 C361.67,110.32 363.54,106.57 364.88,104.97 C366.22,103.36 366.75,103.63 368.09,103.36 C369.43,103.09 371.30,106.04 372.91,103.36 C374.51,100.68 376.12,87.03 377.72,87.30 C379.33,87.57 380.94,100.42 382.54,104.97 C384.15,109.52 385.75,111.92 387.36,114.60 C388.97,117.28 390.57,119.95 392.18,121.02 C393.78,122.10 395.52,118.88 397.00,121.02 C398.47,123.17 399.94,133.34 401.01,133.87 C402.08,134.41 402.48,127.98 403.42,124.24 C404.36,120.49 405.56,114.07 406.63,111.39 C407.70,108.71 408.50,107.91 409.84,108.18 C411.18,108.44 413.05,111.66 414.66,113.00 C416.27,114.33 417.87,116.21 419.48,116.21 C421.08,116.21 422.69,114.87 424.30,113.00 C425.90,111.12 427.51,105.23 429.11,104.97 C430.72,104.70 432.33,111.39 433.93,111.39 C435.54,111.39 437.28,109.25 438.75,104.97 C440.22,100.68 441.69,87.30 442.76,85.69 C443.83,84.09 444.37,91.58 445.17,95.33 C445.98,99.08 446.78,108.98 447.58,108.18 C448.38,107.37 449.59,93.46 449.99,90.51" stroke="#eee670" stroke-width="0.7" stroke-dasharray="1.2 0.9"/>
<path d="M246.50,119.42 C246.95,117.81 248.10,112.06 249.23,109.78 C250.35,107.51 251.90,106.04 253.24,105.77 C254.58,105.50 255.92,106.97 257.26,108.18 C258.59,109.38 259.80,113.00 261.27,113.00 C262.74,113.00 264.48,109.52 266.09,108.18 C267.69,106.84 269.30,104.16 270.91,104.97 C272.51,105.77 274.25,110.05 275.72,113.00 C277.20,115.94 278.40,122.10 279.74,122.63 C281.08,123.17 282.01,116.47 283.75,116.21 C285.49,115.94 288.30,121.29 290.18,121.02 C292.05,120.76 293.39,116.74 295.00,114.60 C296.60,112.46 297.94,108.71 299.81,108.18 C301.69,107.64 304.10,111.39 306.24,111.39 C308.38,111.39 310.79,109.52 312.66,108.18 C314.53,106.84 316.14,104.97 317.48,103.36 C318.82,101.75 319.62,98.81 320.69,98.54 C321.76,98.27 322.83,101.75 323.90,101.75 C324.97,101.75 325.77,97.47 327.11,98.54 C328.45,99.61 330.33,105.77 331.93,108.18 C333.54,110.59 335.28,110.85 336.75,113.00 C338.22,115.14 339.69,120.22 340.76,121.02 C341.83,121.83 342.58,119.51 343.17,117.81 C343.76,116.11 343.96,113.79 344.30,110.83 C344.64,107.86 344.92,104.49 345.20,100.02 C345.48,95.54 345.73,89.99 346.00,83.98 C346.27,77.96 346.55,69.95 346.80,63.93 C347.05,57.90 347.29,51.85 347.50,47.80 C347.71,43.75 347.88,41.36 348.05,39.62 C348.22,37.89 348.35,37.41 348.50,37.40 C348.65,37.39 348.78,37.88 348.95,39.58 C349.12,41.28 349.29,43.62 349.50,47.59 C349.71,51.56 349.95,57.49 350.20,63.40 C350.45,69.30 350.73,77.15 351.00,83.05 C351.27,88.94 351.52,94.38 351.80,98.77 C352.08,103.15 352.13,106.45 352.70,109.36 C353.27,112.27 354.01,114.26 355.24,116.21 C356.47,118.15 358.45,121.83 360.06,121.02 C361.67,120.22 363.27,114.87 364.88,111.39 C366.48,107.91 368.09,105.23 369.69,100.15 C371.30,95.06 373.12,86.50 374.51,80.88 C375.90,75.26 376.92,66.42 378.05,66.42 C379.17,66.42 380.24,75.26 381.26,80.88 C382.27,86.50 383.00,95.06 384.15,100.15 C385.30,105.23 386.82,109.25 388.16,111.39 C389.50,113.53 390.71,113.53 392.18,113.00 C393.65,112.46 395.39,109.25 397.00,108.18 C398.60,107.11 400.21,106.30 401.81,106.57 C403.42,106.84 405.02,109.52 406.63,109.78 C408.24,110.05 409.84,108.98 411.45,108.18 C413.05,107.37 414.66,104.97 416.27,104.97 C417.87,104.97 419.48,108.18 421.08,108.18 C422.69,108.18 424.30,104.70 425.90,104.97 C427.51,105.23 429.11,109.25 430.72,109.78 C432.33,110.32 433.93,108.71 435.54,108.18 C437.14,107.64 438.75,106.57 440.35,106.57 C441.96,106.57 443.57,107.37 445.17,108.18 C446.78,108.98 449.19,110.85 449.99,111.39" stroke="#ebb050" stroke-width="0.75" stroke-dasharray="2.2 0.9 0.6 0.9"/>
<path d="M246.50,108.18 C247.09,107.64 248.77,104.97 250.03,104.97 C251.29,104.97 252.71,106.84 254.04,108.18 C255.38,109.52 256.59,113.00 258.06,113.00 C259.53,113.00 261.54,110.59 262.88,108.18 C264.22,105.77 265.02,99.88 266.09,98.54 C267.16,97.20 268.10,99.08 269.30,100.15 C270.50,101.22 271.98,103.63 273.32,104.97 C274.65,106.30 275.86,107.11 277.33,108.18 C278.80,109.25 280.54,111.66 282.15,111.39 C283.75,111.12 285.63,107.91 286.97,106.57 C288.30,105.23 289.11,104.16 290.18,103.36 C291.25,102.56 292.32,101.22 293.39,101.75 C294.46,102.29 295.53,104.70 296.60,106.57 C297.67,108.44 298.74,111.92 299.81,113.00 C300.88,114.07 301.95,113.80 303.02,113.00 C304.10,112.19 305.17,109.25 306.24,108.18 C307.31,107.11 308.38,106.57 309.45,106.57 C310.52,106.57 311.59,107.91 312.66,108.18 C313.73,108.44 314.53,108.71 315.87,108.18 C317.21,107.64 319.08,105.23 320.69,104.97 C322.30,104.70 324.04,105.23 325.51,106.57 C326.98,107.91 328.45,110.05 329.52,113.00 C330.59,115.94 331.13,122.10 331.93,124.24 C332.73,126.38 333.40,126.38 334.34,125.84 C335.28,125.31 336.48,123.97 337.55,121.02 C338.62,118.08 339.83,111.66 340.76,108.18 C341.70,104.70 342.62,102.54 343.17,100.15 C343.73,97.75 343.80,96.50 344.10,93.80 C344.40,91.11 344.72,88.05 345.00,83.98 C345.28,79.92 345.53,74.88 345.80,69.41 C346.07,63.95 346.35,56.67 346.60,51.20 C346.85,45.72 347.09,40.23 347.30,36.55 C347.51,32.87 347.68,30.69 347.85,29.12 C348.02,27.55 348.15,27.01 348.30,27.10 C348.45,27.19 348.58,27.66 348.75,29.65 C348.92,31.64 349.09,34.39 349.30,39.04 C349.51,43.69 349.75,50.63 350.00,57.55 C350.25,64.47 350.53,73.67 350.80,80.57 C351.07,87.48 351.32,93.85 351.60,98.99 C351.88,104.13 352.03,107.99 352.50,111.40 C352.97,114.80 353.58,117.81 354.44,119.42 C355.30,121.02 356.45,121.83 357.65,121.02 C358.85,120.22 360.46,116.21 361.67,114.60 C362.87,113.00 363.54,112.73 364.88,111.39 C366.22,110.05 368.09,107.91 369.69,106.57 C371.30,105.23 372.91,103.09 374.51,103.36 C376.12,103.63 377.72,106.30 379.33,108.18 C380.94,110.05 382.68,113.26 384.15,114.60 C385.62,115.94 386.82,116.47 388.16,116.21 C389.50,115.94 390.97,114.60 392.18,113.00 C393.38,111.39 394.18,108.18 395.39,106.57 C396.59,104.97 398.07,103.63 399.40,103.36 C400.74,103.09 401.95,104.43 403.42,104.97 C404.89,105.50 406.63,106.84 408.24,106.57 C409.84,106.30 411.45,103.09 413.05,103.36 C414.66,103.63 416.27,106.84 417.87,108.18 C419.48,109.52 421.08,110.32 422.69,111.39 C424.30,112.46 425.90,114.33 427.51,114.60 C429.11,114.87 430.72,113.53 432.33,113.00 C433.93,112.46 435.54,111.92 437.14,111.39 C438.75,110.85 440.35,109.78 441.96,109.78 C443.57,109.78 445.44,111.66 446.78,111.39 C448.12,111.12 449.45,108.71 449.99,108.18" stroke="#e88a48" stroke-width="0.75" stroke-dasharray="2.2 0.9 0.6 0.9"/>
<path d="M246.50,101.75 C246.95,103.63 248.24,109.52 249.23,113.00 C250.22,116.47 251.37,119.69 252.44,122.63 C253.51,125.57 254.58,130.66 255.65,130.66 C256.72,130.66 257.79,125.57 258.86,122.63 C259.93,119.69 260.87,115.94 262.07,113.00 C263.28,110.05 265.02,106.84 266.09,104.97 C267.16,103.09 267.56,101.75 268.50,101.75 C269.43,101.75 270.64,102.82 271.71,104.97 C272.78,107.11 273.98,111.39 274.92,114.60 C275.86,117.81 276.39,122.36 277.33,124.24 C278.27,126.11 279.47,126.65 280.54,125.84 C281.61,125.04 282.68,121.56 283.75,119.42 C284.82,117.28 285.89,114.87 286.97,113.00 C288.04,111.12 289.11,108.18 290.18,108.18 C291.25,108.18 292.32,112.46 293.39,113.00 C294.46,113.53 295.53,110.05 296.60,111.39 C297.67,112.73 298.74,118.35 299.81,121.02 C300.88,123.70 301.95,127.45 303.02,127.45 C304.10,127.45 305.17,124.24 306.24,121.02 C307.31,117.81 308.51,111.92 309.45,108.18 C310.38,104.43 311.05,99.08 311.86,98.54 C312.66,98.01 313.46,102.82 314.27,104.97 C315.07,107.11 315.87,109.78 316.67,111.39 C317.48,113.00 318.15,115.40 319.08,114.60 C320.02,113.80 321.22,109.11 322.30,106.57 C323.37,104.03 324.44,100.15 325.51,99.34 C326.58,98.54 327.65,100.28 328.72,101.75 C329.79,103.23 330.86,108.18 331.93,108.18 C333.00,108.18 334.07,104.97 335.14,101.75 C336.21,98.54 337.55,91.32 338.35,88.91 C339.16,86.50 339.29,86.77 339.96,87.30 C340.63,87.84 341.78,89.71 342.37,92.12 C342.96,94.53 343.16,100.80 343.49,101.75 C343.83,102.71 344.10,99.51 344.40,97.85 C344.70,96.19 345.02,94.31 345.30,91.81 C345.58,89.30 345.83,86.20 346.10,82.84 C346.37,79.48 346.65,75.00 346.90,71.63 C347.15,68.26 347.39,64.88 347.60,62.61 C347.81,60.35 347.98,59.01 348.15,58.04 C348.32,57.07 348.45,56.82 348.60,56.80 C348.75,56.78 348.88,57.04 349.05,57.91 C349.22,58.78 349.39,59.97 349.60,61.99 C349.81,64.01 350.05,67.03 350.30,70.04 C350.55,73.05 350.83,77.05 351.10,80.05 C351.37,83.05 351.62,85.82 351.90,88.05 C352.18,90.29 352.11,91.97 352.80,93.45 C353.49,94.93 355.10,95.82 356.04,96.94 C356.99,98.05 357.52,97.74 358.45,100.15 C359.39,102.56 360.73,111.12 361.67,111.39 C362.60,111.66 363.27,104.56 364.07,101.75 C364.88,98.94 365.68,94.79 366.48,94.53 C367.29,94.26 368.09,97.61 368.89,100.15 C369.69,102.69 370.50,107.11 371.30,109.78 C372.10,112.46 372.91,115.40 373.71,116.21 C374.51,117.01 375.18,115.67 376.12,114.60 C377.05,113.53 378.26,110.05 379.33,109.78 C380.40,109.52 381.47,111.39 382.54,113.00 C383.61,114.60 384.68,118.62 385.75,119.42 C386.82,120.22 387.89,119.15 388.97,117.81 C390.04,116.47 391.11,113.00 392.18,111.39 C393.25,109.78 394.32,110.85 395.39,108.18 C396.46,105.50 397.66,99.88 398.60,95.33 C399.54,90.78 400.21,84.36 401.01,80.88 C401.81,77.40 402.62,74.45 403.42,74.45 C404.22,74.45 405.02,77.40 405.83,80.88 C406.63,84.36 407.43,90.24 408.24,95.33 C409.04,100.42 409.84,107.11 410.65,111.39 C411.45,115.67 412.25,119.95 413.05,121.02 C413.86,122.10 414.66,119.95 415.46,117.81 C416.27,115.67 416.94,109.78 417.87,108.18 C418.81,106.57 420.01,107.37 421.08,108.18 C422.15,108.98 423.36,113.53 424.30,113.00 C425.23,112.46 425.90,107.51 426.70,104.97 C427.51,102.42 428.31,98.27 429.11,97.74 C429.92,97.20 430.72,99.48 431.52,101.75 C432.33,104.03 433.13,111.39 433.93,111.39 C434.73,111.39 435.67,103.89 436.34,101.75 C437.01,99.61 437.28,97.47 437.95,98.54 C438.61,99.61 439.42,105.77 440.35,108.18 C441.29,110.59 442.50,112.73 443.57,113.00 C444.64,113.26 445.84,109.52 446.78,109.78 C447.72,110.05 448.60,110.32 449.19,114.60 C449.78,118.88 450.12,132.00 450.31,135.48" stroke="#52c49e" stroke-width="0.95"/>
<path d="M246.50,111.39 C246.82,110.85 247.70,108.98 248.42,108.18 C249.15,107.37 249.90,106.30 250.83,106.57 C251.77,106.84 252.97,108.71 254.04,109.78 C255.11,110.85 256.19,111.66 257.26,113.00 C258.33,114.33 259.53,116.74 260.47,117.81 C261.40,118.88 261.94,119.95 262.88,119.42 C263.81,118.88 265.02,115.94 266.09,114.60 C267.16,113.26 268.23,112.19 269.30,111.39 C270.37,110.59 271.44,109.78 272.51,109.78 C273.58,109.78 274.65,110.85 275.72,111.39 C276.79,111.92 277.73,113.26 278.94,113.00 C280.14,112.73 281.75,110.85 282.95,109.78 C284.16,108.71 285.09,106.04 286.16,106.57 C287.23,107.11 288.44,110.59 289.37,113.00 C290.31,115.40 291.11,119.42 291.78,121.02 C292.45,122.63 292.59,123.17 293.39,122.63 C294.19,122.10 295.53,119.69 296.60,117.81 C297.67,115.94 298.74,113.53 299.81,111.39 C300.88,109.25 301.95,105.50 303.02,104.97 C304.10,104.43 305.17,106.30 306.24,108.18 C307.31,110.05 308.38,115.94 309.45,116.21 C310.52,116.47 311.46,111.66 312.66,109.78 C313.86,107.91 315.60,105.23 316.67,104.97 C317.75,104.70 318.15,107.37 319.08,108.18 C320.02,108.98 321.22,109.78 322.30,109.78 C323.37,109.78 324.30,108.18 325.51,108.18 C326.71,108.18 328.18,110.05 329.52,109.78 C330.86,109.52 332.33,107.64 333.54,106.57 C334.74,105.50 335.68,103.36 336.75,103.36 C337.82,103.36 339.02,104.16 339.96,106.57 C340.90,108.98 341.63,116.65 342.37,117.81 C343.11,118.98 343.91,115.37 344.40,113.57 C344.89,111.77 345.02,109.73 345.30,107.01 C345.58,104.29 345.83,100.93 346.10,97.27 C346.37,93.62 346.65,88.76 346.90,85.10 C347.15,81.44 347.39,77.77 347.60,75.31 C347.81,72.85 347.98,71.40 348.15,70.35 C348.32,69.30 348.45,69.08 348.60,69.00 C348.75,68.92 348.88,69.19 349.05,69.86 C349.22,70.53 349.39,71.46 349.60,73.03 C349.81,74.60 350.05,76.94 350.30,79.27 C350.55,81.61 350.83,84.71 351.10,87.04 C351.37,89.37 351.62,91.52 351.90,93.26 C352.18,94.99 352.24,96.29 352.80,97.44 C353.36,98.59 354.43,98.89 355.24,100.15 C356.05,101.40 356.85,100.68 357.65,104.97 C358.45,109.25 359.34,120.49 360.06,125.84 C360.78,131.20 361.37,134.22 361.99,137.08 C362.60,139.95 363.06,144.10 363.75,143.03 C364.45,141.95 365.17,136.47 366.16,130.66 C367.15,124.85 368.57,114.60 369.69,108.18 C370.82,101.75 371.84,98.01 372.91,92.12 C373.98,86.23 375.05,77.53 376.12,72.85 C377.19,68.16 378.26,64.01 379.33,64.01 C380.40,64.01 381.61,68.16 382.54,72.85 C383.48,77.53 384.15,85.43 384.95,92.12 C385.75,98.81 386.56,106.04 387.36,113.00 C388.16,119.95 389.23,129.59 389.77,133.87 C390.30,138.15 389.90,139.22 390.57,138.69 C391.24,138.15 392.71,133.60 393.78,130.66 C394.85,127.72 395.92,124.24 397.00,121.02 C398.07,117.81 399.14,113.80 400.21,111.39 C401.28,108.98 402.35,107.64 403.42,106.57 C404.49,105.50 405.56,104.97 406.63,104.97 C407.70,104.97 408.77,106.04 409.84,106.57 C410.91,107.11 411.98,107.91 413.05,108.18 C414.12,108.44 415.20,107.91 416.27,108.18 C417.34,108.44 418.41,109.25 419.48,109.78 C420.55,110.32 421.62,111.66 422.69,111.39 C423.76,111.12 424.83,108.98 425.90,108.18 C426.97,107.37 428.04,107.11 429.11,106.57 C430.18,106.04 431.25,105.37 432.33,104.97 C433.40,104.56 434.47,104.70 435.54,104.16 C436.61,103.63 437.68,101.89 438.75,101.75 C439.82,101.62 440.89,103.36 441.96,103.36 C443.03,103.36 444.10,101.75 445.17,101.75 C446.24,101.75 447.58,102.56 448.38,103.36 C449.19,104.16 449.72,106.04 449.99,106.57" stroke="#404040" stroke-width="0.9" stroke-dasharray="1.9 1.0"/>
<path d="M246.50,98.54 C246.95,97.87 248.37,95.20 249.23,94.53 C250.08,93.86 250.70,93.99 251.64,94.53 C252.57,95.06 253.78,95.73 254.85,97.74 C255.92,99.75 257.12,103.23 258.06,106.57 C259.00,109.92 259.67,114.07 260.47,117.81 C261.27,121.56 262.21,126.91 262.88,129.05 C263.55,131.20 263.95,132.53 264.48,130.66 C265.02,128.79 265.55,122.36 266.09,117.81 C266.62,113.26 267.03,106.30 267.69,103.36 C268.36,100.42 269.17,100.42 270.10,100.15 C271.04,99.88 272.38,101.49 273.32,101.75 C274.25,102.02 274.79,100.42 275.72,101.75 C276.66,103.09 277.87,108.71 278.94,109.78 C280.01,110.85 281.08,109.78 282.15,108.18 C283.22,106.57 284.42,102.02 285.36,100.15 C286.30,98.27 286.83,96.67 287.77,96.94 C288.71,97.20 289.78,100.15 290.98,101.75 C292.18,103.36 293.92,104.43 295.00,106.57 C296.07,108.71 296.60,111.66 297.40,114.60 C298.21,117.55 299.01,123.43 299.81,124.24 C300.62,125.04 301.42,121.29 302.22,119.42 C303.02,117.55 303.96,114.87 304.63,113.00 C305.30,111.12 305.43,108.18 306.24,108.18 C307.04,108.18 308.65,110.85 309.45,113.00 C310.25,115.14 310.38,120.22 311.05,121.02 C311.72,121.83 312.39,119.15 313.46,117.81 C314.53,116.47 316.27,114.07 317.48,113.00 C318.68,111.92 319.62,111.39 320.69,111.39 C321.76,111.39 322.83,112.19 323.90,113.00 C324.97,113.80 325.91,114.60 327.11,116.21 C328.32,117.81 330.06,120.22 331.13,122.63 C332.20,125.04 332.73,128.65 333.54,130.66 C334.34,132.67 335.14,135.75 335.95,134.67 C336.75,133.60 337.55,129.99 338.35,124.24 C339.16,118.48 340.09,104.70 340.76,100.15 C341.43,95.60 341.76,98.08 342.37,96.94 C342.98,95.80 343.91,94.85 344.40,93.31 C344.89,91.77 345.02,90.02 345.30,87.70 C345.58,85.38 345.83,82.50 346.10,79.37 C346.37,76.25 346.65,72.10 346.90,68.97 C347.15,65.84 347.39,62.70 347.60,60.60 C347.81,58.50 347.98,57.25 348.15,56.35 C348.32,55.45 348.45,55.19 348.60,55.20 C348.75,55.21 348.88,55.47 349.05,56.44 C349.22,57.41 349.39,58.75 349.60,61.01 C349.81,63.28 350.05,66.66 350.30,70.03 C350.55,73.40 350.83,77.87 351.10,81.23 C351.37,84.60 351.62,87.70 351.90,90.20 C352.18,92.70 352.38,94.58 352.80,96.24 C353.22,97.90 353.76,100.03 354.44,100.15 C355.11,100.26 356.04,96.13 356.85,96.94 C357.65,97.74 358.45,100.68 359.26,104.97 C360.06,109.25 360.73,117.06 361.67,122.63 C362.60,128.20 363.81,138.50 364.88,138.37 C365.95,138.23 367.02,127.93 368.09,121.83 C369.16,115.73 370.36,106.17 371.30,101.75 C372.24,97.34 372.91,95.60 373.71,95.33 C374.51,95.06 375.32,97.20 376.12,100.15 C376.92,103.09 377.72,109.25 378.53,113.00 C379.33,116.74 380.27,120.76 380.94,122.63 C381.61,124.50 381.87,125.04 382.54,124.24 C383.21,123.43 384.15,119.69 384.95,117.81 C385.75,115.94 386.42,114.33 387.36,113.00 C388.30,111.66 389.63,110.05 390.57,109.78 C391.51,109.52 392.18,111.66 392.98,111.39 C393.78,111.12 394.59,108.71 395.39,108.18 C396.19,107.64 396.86,107.37 397.80,108.18 C398.73,108.98 399.94,112.19 401.01,113.00 C402.08,113.80 403.15,115.94 404.22,113.00 C405.29,110.05 406.63,100.15 407.43,95.33 C408.24,90.51 408.37,83.82 409.04,84.09 C409.71,84.36 410.65,92.12 411.45,96.94 C412.25,101.75 413.05,111.12 413.86,113.00 C414.66,114.87 415.54,110.85 416.27,108.18 C416.99,105.50 417.52,97.47 418.19,96.94 C418.86,96.40 419.53,100.95 420.28,104.97 C421.03,108.98 421.94,116.21 422.69,121.02 C423.44,125.84 424.24,131.36 424.78,133.87 C425.31,136.39 425.31,136.92 425.90,136.12 C426.49,135.32 427.37,132.37 428.31,129.05 C429.25,125.74 430.45,117.55 431.52,116.21 C432.59,114.87 433.80,120.76 434.73,121.02 C435.67,121.29 436.21,119.95 437.14,117.81 C438.08,115.67 439.28,111.39 440.35,108.18 C441.43,104.97 442.63,99.61 443.57,98.54 C444.50,97.47 445.17,100.15 445.98,101.75 C446.78,103.36 447.72,107.11 448.38,108.18 C449.05,109.25 449.72,108.18 449.99,108.18" stroke="#4399cd" stroke-width="1.0"/>
</g>
<rect x="242.6" y="20.8" width="211.8" height="131.5" fill="none" stroke="#cfcfcf" stroke-width="0.9"/>
<line x1="241.0" y1="24.4" x2="242.6" y2="24.4" stroke="#666" stroke-width="0.5"/>
<text x="240.2" y="25.9" font-size="4.3" text-anchor="end" fill="#444">6</text>
<line x1="241.0" y1="52.6" x2="242.6" y2="52.6" stroke="#666" stroke-width="0.5"/>
<text x="240.2" y="54.1" font-size="4.3" text-anchor="end" fill="#444">4</text>
<line x1="241.0" y1="80.8" x2="242.6" y2="80.8" stroke="#666" stroke-width="0.5"/>
<text x="240.2" y="82.3" font-size="4.3" text-anchor="end" fill="#444">2</text>
<line x1="241.0" y1="109.0" x2="242.6" y2="109.0" stroke="#666" stroke-width="0.5"/>
<text x="240.2" y="110.5" font-size="4.3" text-anchor="end" fill="#444">0</text>
<line x1="241.0" y1="137.2" x2="242.6" y2="137.2" stroke="#666" stroke-width="0.5"/>
<text x="240.2" y="138.7" font-size="4.3" text-anchor="end" fill="#444">−2</text>
<line x1="246.9" y1="152.3" x2="246.9" y2="153.9" stroke="#666" stroke-width="0.5"/>
<text x="246.9" y="156.9" font-size="4.3" text-anchor="middle" fill="#444">−250</text>
<line x1="287.5" y1="152.3" x2="287.5" y2="153.9" stroke="#666" stroke-width="0.5"/>
<text x="287.5" y="156.9" font-size="4.3" text-anchor="middle" fill="#444">−150</text>
<line x1="328.2" y1="152.3" x2="328.2" y2="153.9" stroke="#666" stroke-width="0.5"/>
<text x="328.2" y="156.9" font-size="4.3" text-anchor="middle" fill="#444">−50</text>
<line x1="348.5" y1="152.3" x2="348.5" y2="153.9" stroke="#666" stroke-width="0.5"/>
<text x="348.5" y="156.9" font-size="4.3" text-anchor="middle" fill="#444">0</text>
<line x1="368.8" y1="152.3" x2="368.8" y2="153.9" stroke="#666" stroke-width="0.5"/>
<text x="368.8" y="156.9" font-size="4.3" text-anchor="middle" fill="#444">50</text>
<line x1="409.5" y1="152.3" x2="409.5" y2="153.9" stroke="#666" stroke-width="0.5"/>
<text x="409.5" y="156.9" font-size="4.3" text-anchor="middle" fill="#444">150</text>
<line x1="450.1" y1="152.3" x2="450.1" y2="153.9" stroke="#666" stroke-width="0.5"/>
<text x="450.1" y="156.9" font-size="4.3" text-anchor="middle" fill="#444">250</text>
<text x="348.5" y="161.5" font-size="4.8" text-anchor="middle" fill="#262626" stroke="#262626" stroke-width="0.1">Distance from TAD boundary (Kb)</text>
<text x="233.0" y="87.6" font-size="4.7" text-anchor="middle" fill="#262626" stroke="#262626" stroke-width="0.1" transform="rotate(-90 233.0 87.6)">Normalized Avg. Signal</text>
<line x1="380.4" y1="26.2" x2="388.4" y2="26.2" stroke="#404040" stroke-width="1.26" stroke-dasharray="1.9 1.0" opacity="0.9"/>
<text x="391.2" y="27.7" font-size="4.1" fill="#333" stroke="#333" stroke-width="0.08">TopDom</text>
<line x1="380.4" y1="31.9" x2="388.4" y2="31.9" stroke="#ebb050" stroke-width="1.05" stroke-dasharray="2.2 0.9 0.6 0.9" opacity="0.9"/>
<text x="391.2" y="33.4" font-size="4.1" fill="#333" stroke="#333" stroke-width="0.08">HiCseg</text>
<line x1="380.4" y1="37.6" x2="388.4" y2="37.6" stroke="#bfe3f6" stroke-width="0.91" stroke-dasharray="1.8 0.8 0.5 0.8" opacity="0.9"/>
<text x="391.2" y="39.1" font-size="4.1" fill="#333" stroke="#333" stroke-width="0.08">Spectral</text>
<line x1="380.4" y1="43.2" x2="388.4" y2="43.2" stroke="#52c49e" stroke-width="1.33" opacity="0.9"/>
<text x="391.2" y="44.7" font-size="4.1" fill="#333" stroke="#333" stroke-width="0.08">ClusterTAD</text>
<line x1="419.7" y1="26.2" x2="427.7" y2="26.2" stroke="#eee670" stroke-width="0.98" stroke-dasharray="1.2 0.9" opacity="0.9"/>
<text x="430.5" y="27.7" font-size="4.1" fill="#333" stroke="#333" stroke-width="0.08">Armatus</text>
<line x1="419.7" y1="31.9" x2="427.7" y2="31.9" stroke="#e88a48" stroke-width="1.05" stroke-dasharray="2.2 0.9 0.6 0.9" opacity="0.9"/>
<text x="430.5" y="33.4" font-size="4.1" fill="#333" stroke="#333" stroke-width="0.08">IC-Finder</text>
<line x1="419.7" y1="37.6" x2="427.7" y2="37.6" stroke="#f4c0e2" stroke-width="0.84" stroke-dasharray="1.6 1.0" opacity="0.9"/>
<text x="430.5" y="39.1" font-size="4.1" fill="#333" stroke="#333" stroke-width="0.08">Caspian</text>
<line x1="419.7" y1="43.2" x2="427.7" y2="43.2" stroke="#4399cd" stroke-width="1.40" opacity="0.9"/>
<text x="430.5" y="44.7" font-size="4.1" fill="#333" stroke="#333" stroke-width="0.08">EmbedTAD</text>
<text x="459.0" y="12.8" font-size="15.4" fill="#262626" stroke="#262626" stroke-width="0.3">C.</text>
<text x="577.9" y="19.8" font-size="6.3" font-weight="bold" text-anchor="middle" fill="#111" stroke="#111" stroke-width="0.15" textLength="16.1" lengthAdjust="spacingAndGlyphs">SMC3</text>
<clipPath id="clipC"><rect x="472.5" y="20.8" width="210.70000000000005" height="131.5"/></clipPath>
<g clip-path="url(#clipC)" fill="none" stroke-linejoin="round">
<path d="M476.50,108.18 C477.35,108.18 480.24,110.05 481.64,108.18 C483.03,106.30 483.99,102.29 484.85,96.94 C485.70,91.58 486.24,80.61 486.77,76.06 C487.31,71.51 487.58,69.64 488.06,69.64 C488.54,69.64 489.13,71.51 489.67,76.06 C490.20,80.61 490.60,91.32 491.27,96.94 C491.94,102.56 492.61,107.11 493.68,109.78 C494.75,112.46 495.95,112.46 497.69,113.00 C499.43,113.53 501.71,113.00 504.12,113.00 C506.53,113.00 509.47,113.00 512.15,113.00 C514.82,113.00 517.50,113.26 520.18,113.00 C522.85,112.73 525.53,112.19 528.21,111.39 C530.88,110.59 534.36,111.66 536.24,108.18 C538.11,104.70 538.59,97.61 539.45,90.51 C540.30,83.42 540.71,71.11 541.38,65.62 C542.04,60.13 542.77,57.59 543.46,57.59 C544.16,57.59 544.88,59.87 545.55,65.62 C546.22,71.38 546.76,84.22 547.48,92.12 C548.20,100.01 549.08,109.78 549.89,113.00 C550.69,116.21 551.36,113.80 552.30,111.39 C553.23,108.98 554.57,105.90 555.51,98.54 C556.44,91.18 557.17,73.52 557.92,67.23 C558.67,60.94 559.33,60.27 560.00,60.80 C560.67,61.34 561.21,63.88 561.93,70.44 C562.65,77.00 563.54,95.73 564.34,100.15 C565.14,104.56 566.08,101.35 566.75,96.94 C567.42,92.52 567.77,78.60 568.35,73.65 C568.94,68.70 569.61,65.75 570.28,67.23 C570.95,68.70 571.62,74.85 572.37,82.48 C573.12,90.11 573.60,108.18 574.78,113.00 C575.95,117.81 577.04,111.52 579.42,111.39 C581.80,111.26 585.85,112.06 589.06,112.19 C592.27,112.33 595.48,112.19 598.69,112.19 C601.91,112.19 605.12,112.19 608.33,112.19 C611.54,112.19 614.75,112.19 617.97,112.19 C621.18,112.19 624.39,112.19 627.60,112.19 C630.81,112.19 634.02,112.19 637.24,112.19 C640.45,112.19 643.66,112.19 646.87,112.19 C650.08,112.19 653.30,112.19 656.51,112.19 C659.72,112.19 662.93,112.19 666.14,112.19 C669.35,112.19 673.64,112.19 675.78,112.19 C677.92,112.19 678.45,112.19 678.99,112.19" stroke="#f4c0e2" stroke-width="0.6" stroke-dasharray="1.6 1.0"/>
<path d="M476.50,106.57 C477.35,104.16 479.98,93.19 481.64,92.12 C483.29,91.05 484.85,97.47 486.45,100.15 C488.06,102.82 489.40,106.30 491.27,108.18 C493.14,110.05 495.55,108.44 497.69,111.39 C499.84,114.33 502.65,122.90 504.12,125.84 C505.59,128.79 505.46,129.86 506.53,129.05 C507.60,128.25 508.80,123.70 510.54,121.02 C512.28,118.35 514.82,115.14 516.97,113.00 C519.11,110.85 521.25,108.44 523.39,108.18 C525.53,107.91 527.67,111.12 529.81,111.39 C531.95,111.66 534.10,109.52 536.24,109.78 C538.38,110.05 540.52,113.26 542.66,113.00 C544.80,112.73 546.94,110.32 549.08,108.18 C551.22,106.04 553.37,100.68 555.51,100.15 C557.65,99.61 559.79,102.82 561.93,104.97 C564.07,107.11 566.48,111.92 568.35,113.00 C570.23,114.07 572.26,112.37 573.17,111.39 C574.08,110.41 573.55,108.92 573.80,107.10 C574.05,105.28 574.42,103.21 574.70,100.46 C574.98,97.71 575.23,94.30 575.50,90.61 C575.77,86.91 576.05,81.99 576.30,78.29 C576.55,74.59 576.79,70.88 577.00,68.39 C577.21,65.90 577.38,64.43 577.55,63.37 C577.72,62.30 577.85,61.95 578.00,62.00 C578.15,62.05 578.28,62.37 578.45,63.68 C578.62,64.98 578.79,66.79 579.00,69.84 C579.21,72.90 579.45,77.45 579.70,82.00 C579.95,86.55 580.23,92.58 580.50,97.12 C580.77,101.65 581.02,105.84 581.30,109.21 C581.58,112.59 581.71,115.13 582.20,117.36 C582.69,119.60 583.37,120.95 584.24,122.63 C585.12,124.31 586.11,127.72 587.45,127.45 C588.79,127.18 590.40,123.43 592.27,121.02 C594.14,118.62 596.55,114.60 598.69,113.00 C600.84,111.39 602.98,111.12 605.12,111.39 C607.26,111.66 609.40,114.33 611.54,114.60 C613.68,114.87 615.82,112.46 617.97,113.00 C620.11,113.53 622.52,115.94 624.39,117.81 C626.26,119.69 627.60,123.43 629.21,124.24 C630.81,125.04 632.15,123.43 634.02,122.63 C635.90,121.83 638.84,119.15 640.45,119.42 C642.05,119.69 642.32,125.31 643.66,124.24 C645.00,123.17 646.34,115.67 648.48,113.00 C650.62,110.32 654.10,108.98 656.51,108.18 C658.92,107.37 660.79,107.91 662.93,108.18 C665.07,108.44 667.21,109.25 669.35,109.78 C671.50,110.32 674.17,111.39 675.78,111.39 C677.38,111.39 678.45,110.05 678.99,109.78" stroke="#bfe3f6" stroke-width="0.65" stroke-dasharray="1.8 0.8 0.5 0.8"/>
<path d="M476.50,116.21 C477.09,113.80 478.64,105.23 480.03,101.75 C481.42,98.27 483.24,97.20 484.85,95.33 C486.45,93.46 488.06,92.65 489.67,90.51 C491.27,88.37 493.41,84.09 494.48,82.48 C495.55,80.88 495.55,80.07 496.09,80.88 C496.62,81.68 497.03,81.41 497.69,87.30 C498.36,93.19 499.43,110.05 500.10,116.21 C500.77,122.36 501.04,122.63 501.71,124.24 C502.38,125.84 503.18,126.38 504.12,125.84 C505.05,125.31 506.26,123.43 507.33,121.02 C508.40,118.62 509.47,111.66 510.54,111.39 C511.61,111.12 512.68,116.21 513.75,119.42 C514.82,122.63 516.16,128.52 516.97,130.66 C517.77,132.80 517.77,133.34 518.57,132.27 C519.37,131.20 520.71,127.45 521.78,124.24 C522.85,121.02 523.66,115.67 525.00,113.00 C526.33,110.32 528.21,110.59 529.81,108.18 C531.42,105.77 533.29,98.54 534.63,98.54 C535.97,98.54 536.77,105.23 537.84,108.18 C538.91,111.12 539.72,116.21 541.05,116.21 C542.39,116.21 544.27,111.92 545.87,108.18 C547.48,104.43 549.35,95.33 550.69,93.72 C552.03,92.12 552.56,96.13 553.90,98.54 C555.24,100.95 556.85,106.57 558.72,108.18 C560.59,109.78 563.27,106.57 565.14,108.18 C567.02,109.78 568.76,113.00 569.96,117.81 C571.16,122.63 571.83,133.60 572.37,137.08 C572.90,140.56 572.80,139.56 573.17,138.69 C573.54,137.82 574.21,134.76 574.60,131.85 C574.99,128.95 575.22,125.66 575.50,121.28 C575.78,116.90 576.03,111.47 576.30,105.58 C576.57,99.69 576.85,91.86 577.10,85.96 C577.35,80.06 577.59,74.14 577.80,70.18 C578.01,66.21 578.18,63.87 578.35,62.18 C578.52,60.48 578.65,60.09 578.80,60.00 C578.95,59.91 579.08,60.36 579.25,61.64 C579.42,62.92 579.59,64.69 579.80,67.69 C580.01,70.68 580.25,75.14 580.50,79.60 C580.75,84.06 581.03,89.97 581.30,94.42 C581.57,98.86 581.82,102.96 582.10,106.27 C582.38,109.58 582.64,112.06 583.00,114.26 C583.36,116.45 583.23,119.63 584.24,119.42 C585.25,119.21 587.45,115.40 589.06,113.00 C590.67,110.59 592.00,106.84 593.88,104.97 C595.75,103.09 598.43,103.89 600.30,101.75 C602.17,99.61 603.51,92.12 605.12,92.12 C606.72,92.12 608.33,98.01 609.94,101.75 C611.54,105.50 613.15,113.53 614.75,114.60 C616.36,115.67 617.97,107.64 619.57,108.18 C621.18,108.71 622.92,113.00 624.39,117.81 C625.86,122.63 627.28,132.43 628.40,137.08 C629.53,141.74 630.33,147.09 631.13,145.76 C631.94,144.42 632.47,135.32 633.22,129.05 C633.97,122.79 634.69,112.73 635.63,108.18 C636.57,103.63 637.50,102.02 638.84,101.75 C640.18,101.49 642.05,106.04 643.66,106.57 C645.27,107.11 646.87,103.89 648.48,104.97 C650.08,106.04 651.69,112.46 653.30,113.00 C654.90,113.53 656.51,110.32 658.11,108.18 C659.72,106.04 661.33,102.82 662.93,100.15 C664.54,97.47 666.28,95.33 667.75,92.12 C669.22,88.91 670.69,81.41 671.76,80.88 C672.83,80.34 673.37,84.89 674.17,88.91 C674.98,92.92 675.78,104.43 676.58,104.97 C677.38,105.50 678.59,94.26 678.99,92.12" stroke="#eee670" stroke-width="0.7" stroke-dasharray="1.2 0.9"/>
<path d="M476.50,113.00 C477.35,114.07 479.98,117.28 481.64,119.42 C483.29,121.56 485.38,124.24 486.45,125.84 C487.52,127.45 487.26,130.12 488.06,129.05 C488.86,127.98 489.93,122.90 491.27,119.42 C492.61,115.94 494.75,111.39 496.09,108.18 C497.43,104.97 497.96,100.68 499.30,100.15 C500.64,99.61 502.51,102.56 504.12,104.97 C505.72,107.37 507.33,113.26 508.94,114.60 C510.54,115.94 511.88,114.07 513.75,113.00 C515.63,111.92 518.04,108.71 520.18,108.18 C522.32,107.64 524.46,110.05 526.60,109.78 C528.74,109.52 530.88,106.84 533.02,106.57 C535.17,106.30 537.31,108.44 539.45,108.18 C541.59,107.91 543.73,104.97 545.87,104.97 C548.01,104.97 550.15,106.84 552.30,108.18 C554.44,109.52 556.58,111.92 558.72,113.00 C560.86,114.07 563.27,114.07 565.14,114.60 C567.02,115.14 568.57,117.13 569.96,116.21 C571.35,115.28 572.76,112.10 573.50,109.06 C574.24,106.03 574.12,102.59 574.40,98.02 C574.68,93.44 574.93,87.77 575.20,81.62 C575.47,75.47 575.75,67.28 576.00,61.12 C576.25,54.95 576.49,48.77 576.70,44.63 C576.91,40.49 577.08,38.05 577.25,36.27 C577.42,34.50 577.55,33.99 577.70,34.00 C577.85,34.01 577.98,34.51 578.15,36.32 C578.32,38.12 578.49,40.62 578.70,44.84 C578.91,49.06 579.15,55.36 579.40,61.65 C579.65,67.93 579.93,76.28 580.20,82.55 C580.47,88.82 580.72,94.60 581.00,99.27 C581.28,103.93 581.09,107.44 581.90,110.53 C582.71,113.62 584.39,116.33 585.85,117.81 C587.31,119.29 589.06,120.22 590.67,119.42 C592.27,118.62 593.88,116.47 595.48,113.00 C597.09,109.52 598.69,105.23 600.30,98.54 C601.91,91.85 603.73,78.52 605.12,72.85 C606.51,67.17 607.45,63.69 608.65,64.50 C609.86,65.30 611.19,71.72 612.34,77.67 C613.50,83.61 614.35,94.53 615.56,100.15 C616.76,105.77 618.10,109.78 619.57,111.39 C621.04,113.00 622.78,110.59 624.39,109.78 C626.00,108.98 627.60,106.84 629.21,106.57 C630.81,106.30 632.42,108.18 634.02,108.18 C635.63,108.18 637.24,106.57 638.84,106.57 C640.45,106.57 642.05,107.64 643.66,108.18 C645.27,108.71 646.87,109.78 648.48,109.78 C650.08,109.78 651.69,108.71 653.30,108.18 C654.90,107.64 656.51,106.30 658.11,106.57 C659.72,106.84 661.33,109.52 662.93,109.78 C664.54,110.05 666.14,108.18 667.75,108.18 C669.35,108.18 670.69,109.25 672.57,109.78 C674.44,110.32 677.92,111.12 678.99,111.39" stroke="#ebb050" stroke-width="0.75" stroke-dasharray="2.2 0.9 0.6 0.9"/>
<path d="M476.50,111.39 C477.22,111.66 479.44,112.19 480.83,113.00 C482.22,113.80 483.64,115.94 484.85,116.21 C486.05,116.47 486.99,115.40 488.06,114.60 C489.13,113.80 489.93,113.26 491.27,111.39 C492.61,109.52 494.62,105.77 496.09,103.36 C497.56,100.95 498.90,97.47 500.10,96.94 C501.31,96.40 502.11,98.54 503.32,100.15 C504.52,101.75 505.86,105.50 507.33,106.57 C508.80,107.64 510.54,107.37 512.15,106.57 C513.75,105.77 515.36,103.09 516.97,101.75 C518.57,100.42 520.44,99.21 521.78,98.54 C523.12,97.87 523.92,97.20 525.00,97.74 C526.07,98.27 527.00,100.28 528.21,101.75 C529.41,103.23 530.88,105.50 532.22,106.57 C533.56,107.64 534.76,108.44 536.24,108.18 C537.71,107.91 539.45,106.84 541.05,104.97 C542.66,103.09 544.53,98.27 545.87,96.94 C547.21,95.60 548.01,96.40 549.08,96.94 C550.15,97.47 551.22,98.27 552.30,100.15 C553.37,102.02 554.44,104.70 555.51,108.18 C556.58,111.66 557.78,118.08 558.72,121.02 C559.66,123.97 560.19,125.84 561.13,125.84 C562.06,125.84 563.14,123.97 564.34,121.02 C565.54,118.08 567.15,111.66 568.35,108.18 C569.56,104.70 570.76,102.54 571.57,100.15 C572.37,97.75 572.78,96.50 573.20,93.80 C573.62,91.11 573.82,88.05 574.10,83.98 C574.38,79.92 574.63,74.88 574.90,69.41 C575.17,63.95 575.45,56.67 575.70,51.20 C575.95,45.72 576.19,40.23 576.40,36.55 C576.61,32.87 576.78,30.69 576.95,29.12 C577.12,27.55 577.25,27.00 577.40,27.10 C577.55,27.20 577.68,27.67 577.85,29.70 C578.02,31.72 578.19,34.52 578.40,39.25 C578.61,43.98 578.85,51.04 579.10,58.08 C579.35,65.12 579.63,74.48 579.90,81.50 C580.17,88.53 580.42,95.01 580.70,100.24 C580.98,105.47 580.88,109.40 581.60,112.86 C582.32,116.33 583.93,119.66 585.04,121.02 C586.15,122.38 587.19,121.83 588.26,121.02 C589.33,120.22 590.26,118.08 591.47,116.21 C592.67,114.33 594.01,111.92 595.48,109.78 C596.95,107.64 598.69,104.97 600.30,103.36 C601.91,101.75 603.51,99.61 605.12,100.15 C606.72,100.68 608.33,104.70 609.94,106.57 C611.54,108.44 613.28,111.12 614.75,111.39 C616.23,111.66 617.43,109.52 618.77,108.18 C620.11,106.84 621.58,104.43 622.78,103.36 C623.99,102.29 624.66,101.22 626.00,101.75 C627.33,102.29 629.21,105.23 630.81,106.57 C632.42,107.91 634.02,109.52 635.63,109.78 C637.24,110.05 638.84,107.64 640.45,108.18 C642.05,108.71 643.93,110.05 645.27,113.00 C646.60,115.94 647.41,122.90 648.48,125.84 C649.55,128.79 650.62,130.93 651.69,130.66 C652.76,130.39 653.83,127.18 654.90,124.24 C655.97,121.29 656.77,115.67 658.11,113.00 C659.45,110.32 661.33,108.71 662.93,108.18 C664.54,107.64 666.14,109.25 667.75,109.78 C669.35,110.32 670.96,110.85 672.57,111.39 C674.17,111.92 676.31,113.00 677.38,113.00 C678.45,113.00 678.72,111.66 678.99,111.39" stroke="#e88a48" stroke-width="0.75" stroke-dasharray="2.2 0.9 0.6 0.9"/>
<path d="M476.50,90.51 C476.82,93.46 477.70,103.63 478.42,108.18 C479.15,112.73 480.03,115.67 480.83,117.81 C481.64,119.95 482.30,121.02 483.24,121.02 C484.18,121.02 485.38,119.15 486.45,117.81 C487.52,116.47 488.59,114.87 489.67,113.00 C490.74,111.12 491.81,108.71 492.88,106.57 C493.95,104.43 495.15,99.88 496.09,100.15 C497.03,100.42 497.56,105.23 498.50,108.18 C499.43,111.12 500.64,115.14 501.71,117.81 C502.78,120.49 503.85,122.36 504.92,124.24 C505.99,126.11 507.20,128.52 508.13,129.05 C509.07,129.59 509.61,128.79 510.54,127.45 C511.48,126.11 512.68,123.43 513.75,121.02 C514.82,118.62 515.89,115.14 516.97,113.00 C518.04,110.85 519.11,108.71 520.18,108.18 C521.25,107.64 522.32,108.98 523.39,109.78 C524.46,110.59 525.53,111.66 526.60,113.00 C527.67,114.33 528.74,115.40 529.81,117.81 C530.88,120.22 532.09,125.31 533.02,127.45 C533.96,129.59 534.63,131.73 535.43,130.66 C536.24,129.59 537.04,125.84 537.84,121.02 C538.65,116.21 539.66,106.30 540.25,101.75 C540.84,97.20 540.84,93.72 541.38,93.72 C541.91,93.72 542.71,97.74 543.46,101.75 C544.21,105.77 545.20,113.80 545.87,117.81 C546.54,121.83 546.81,125.31 547.48,125.84 C548.15,126.38 549.08,123.43 549.89,121.02 C550.69,118.62 551.36,113.53 552.30,111.39 C553.23,109.25 554.30,108.18 555.51,108.18 C556.71,108.18 558.32,111.92 559.52,111.39 C560.73,110.85 561.53,107.37 562.73,104.97 C563.94,102.56 565.68,99.34 566.75,96.94 C567.82,94.53 568.35,90.24 569.16,90.51 C569.96,90.78 570.79,97.81 571.57,98.54 C572.34,99.28 573.28,96.46 573.80,94.93 C574.32,93.40 574.42,91.66 574.70,89.35 C574.98,87.04 575.23,84.17 575.50,81.06 C575.77,77.95 576.05,73.82 576.30,70.70 C576.55,67.59 576.79,64.47 577.00,62.37 C577.21,60.28 577.38,59.04 577.55,58.15 C577.72,57.25 577.85,57.00 578.00,57.00 C578.15,57.00 578.28,57.25 578.45,58.15 C578.62,59.04 578.79,60.28 579.00,62.37 C579.21,64.47 579.45,67.59 579.70,70.70 C579.95,73.82 580.23,77.95 580.50,81.06 C580.77,84.17 581.02,87.04 581.30,89.35 C581.58,91.66 581.71,93.40 582.20,94.93 C582.69,96.46 583.50,98.74 584.24,98.54 C584.98,98.34 585.85,93.19 586.65,93.72 C587.45,94.26 588.26,99.61 589.06,101.75 C589.86,103.89 590.67,106.84 591.47,106.57 C592.27,106.30 593.07,101.49 593.88,100.15 C594.68,98.81 595.48,97.20 596.29,98.54 C597.09,99.88 597.89,104.97 598.69,108.18 C599.50,111.39 600.30,114.87 601.10,117.81 C601.91,120.76 602.71,123.97 603.51,125.84 C604.32,127.72 605.12,129.32 605.92,129.05 C606.72,128.79 607.39,126.11 608.33,124.24 C609.27,122.36 610.47,119.69 611.54,117.81 C612.61,115.94 613.68,114.60 614.75,113.00 C615.82,111.39 616.89,109.25 617.97,108.18 C619.04,107.11 620.11,108.44 621.18,106.57 C622.25,104.70 623.32,101.22 624.39,96.94 C625.46,92.65 626.40,85.16 627.60,80.88 C628.81,76.59 630.41,71.78 631.62,71.24 C632.82,70.71 633.89,74.19 634.83,77.67 C635.76,81.14 636.43,87.03 637.24,92.12 C638.04,97.20 638.84,103.63 639.65,108.18 C640.45,112.73 641.25,117.81 642.05,119.42 C642.86,121.02 643.66,119.42 644.46,117.81 C645.27,116.21 645.94,110.59 646.87,109.78 C647.81,108.98 649.01,112.46 650.08,113.00 C651.15,113.53 652.22,115.67 653.30,113.00 C654.37,110.32 655.52,100.68 656.51,96.94 C657.50,93.19 658.43,90.51 659.24,90.51 C660.04,90.51 660.58,93.46 661.33,96.94 C662.07,100.42 662.93,110.05 663.73,111.39 C664.54,112.73 665.21,106.84 666.14,104.97 C667.08,103.09 668.28,99.08 669.35,100.15 C670.43,101.22 671.50,110.05 672.57,111.39 C673.64,112.73 674.84,107.37 675.78,108.18 C676.72,108.98 677.60,112.46 678.19,116.21 C678.78,119.95 679.12,128.25 679.31,130.66" stroke="#52c49e" stroke-width="0.95"/>
<path d="M476.50,108.18 C476.95,108.04 478.24,107.11 479.23,107.37 C480.22,107.64 481.37,108.58 482.44,109.78 C483.51,110.99 484.58,113.26 485.65,114.60 C486.72,115.94 487.79,116.88 488.86,117.81 C489.93,118.75 491.00,120.76 492.07,120.22 C493.14,119.69 494.22,116.61 495.29,114.60 C496.36,112.59 497.29,109.25 498.50,108.18 C499.70,107.11 501.31,107.64 502.51,108.18 C503.72,108.71 504.65,110.85 505.72,111.39 C506.79,111.92 507.73,111.92 508.94,111.39 C510.14,110.85 511.61,108.98 512.95,108.18 C514.29,107.37 515.76,105.77 516.97,106.57 C518.17,107.37 519.24,110.85 520.18,113.00 C521.11,115.14 521.78,118.62 522.59,119.42 C523.39,120.22 524.06,118.88 525.00,117.81 C525.93,116.74 527.00,115.14 528.21,113.00 C529.41,110.85 531.02,105.77 532.22,104.97 C533.43,104.16 534.36,108.71 535.43,108.18 C536.50,107.64 537.44,102.82 538.65,101.75 C539.85,100.68 541.46,101.49 542.66,101.75 C543.86,102.02 544.80,102.29 545.87,103.36 C546.94,104.43 548.01,108.44 549.08,108.18 C550.15,107.91 551.22,103.36 552.30,101.75 C553.37,100.15 554.30,98.54 555.51,98.54 C556.71,98.54 558.18,100.68 559.52,101.75 C560.86,102.82 562.33,104.70 563.54,104.97 C564.74,105.23 565.68,103.09 566.75,103.36 C567.82,103.63 569.02,104.43 569.96,106.57 C570.90,108.71 571.73,115.34 572.37,116.21 C573.01,117.08 573.41,113.67 573.80,111.80 C574.19,109.93 574.42,107.81 574.70,104.99 C574.98,102.16 575.23,98.66 575.50,94.87 C575.77,91.08 576.05,86.03 576.30,82.23 C576.55,78.42 576.79,74.61 577.00,72.06 C577.21,69.50 577.38,68.00 577.55,66.90 C577.72,65.81 577.85,65.60 578.00,65.50 C578.15,65.40 578.28,65.68 578.45,66.33 C578.62,66.97 578.79,67.86 579.00,69.36 C579.21,70.86 579.45,73.10 579.70,75.34 C579.95,77.58 580.23,80.55 580.50,82.78 C580.77,85.01 581.02,87.07 581.30,88.73 C581.58,90.39 581.71,91.64 582.20,92.74 C582.69,93.84 583.50,94.63 584.24,95.33 C584.98,96.03 585.85,94.26 586.65,96.94 C587.45,99.61 588.31,104.70 589.06,111.39 C589.81,118.08 590.50,131.65 591.15,137.08 C591.79,142.52 592.24,144.79 592.91,143.99 C593.58,143.19 594.20,138.23 595.16,132.27 C596.13,126.30 597.57,115.14 598.69,108.18 C599.82,101.22 600.84,96.94 601.91,90.51 C602.98,84.09 604.05,74.32 605.12,69.64 C606.19,64.95 607.26,62.41 608.33,62.41 C609.40,62.41 610.61,65.49 611.54,69.64 C612.48,73.78 613.28,80.88 613.95,87.30 C614.62,93.72 614.89,100.95 615.56,108.18 C616.23,115.40 617.30,125.68 617.97,130.66 C618.63,135.64 618.77,137.78 619.57,138.05 C620.37,138.31 621.71,134.30 622.78,132.27 C623.85,130.23 624.92,127.98 626.00,125.84 C627.07,123.70 628.14,121.83 629.21,119.42 C630.28,117.01 631.35,113.53 632.42,111.39 C633.49,109.25 634.56,107.64 635.63,106.57 C636.70,105.50 637.77,105.77 638.84,104.97 C639.91,104.16 640.98,101.49 642.05,101.75 C643.12,102.02 644.20,105.23 645.27,106.57 C646.34,107.91 647.41,109.52 648.48,109.78 C649.55,110.05 650.62,108.71 651.69,108.18 C652.76,107.64 653.83,107.37 654.90,106.57 C655.97,105.77 657.04,103.09 658.11,103.36 C659.18,103.63 660.25,107.37 661.33,108.18 C662.40,108.98 663.47,108.98 664.54,108.18 C665.61,107.37 666.68,104.43 667.75,103.36 C668.82,102.29 669.89,102.02 670.96,101.75 C672.03,101.49 673.10,101.49 674.17,101.75 C675.24,102.02 676.58,102.29 677.38,103.36 C678.19,104.43 678.72,107.37 678.99,108.18" stroke="#404040" stroke-width="0.9" stroke-dasharray="1.9 1.0"/>
<path d="M476.50,92.12 C476.95,92.39 478.24,92.65 479.23,93.72 C480.22,94.79 481.37,96.94 482.44,98.54 C483.51,100.15 484.58,101.22 485.65,103.36 C486.72,105.50 487.79,108.71 488.86,111.39 C489.93,114.07 491.14,119.42 492.07,119.42 C493.01,119.42 493.68,114.07 494.48,111.39 C495.29,108.71 495.95,105.50 496.89,103.36 C497.83,101.22 498.90,99.88 500.10,98.54 C501.31,97.20 503.05,95.33 504.12,95.33 C505.19,95.33 505.72,96.67 506.53,98.54 C507.33,100.42 508.13,104.97 508.94,106.57 C509.74,108.18 510.54,109.25 511.34,108.18 C512.15,107.11 512.82,103.23 513.75,100.15 C514.69,97.07 516.03,91.05 516.97,89.71 C517.90,88.37 518.57,90.11 519.37,92.12 C520.18,94.13 520.85,98.27 521.78,101.75 C522.72,105.23 524.06,109.52 525.00,113.00 C525.93,116.47 526.73,120.62 527.40,122.63 C528.07,124.64 528.34,125.31 529.01,125.04 C529.68,124.77 530.62,123.57 531.42,121.02 C532.22,118.48 533.02,112.46 533.83,109.78 C534.63,107.11 535.30,105.23 536.24,104.97 C537.17,104.70 538.38,107.11 539.45,108.18 C540.52,109.25 541.59,111.39 542.66,111.39 C543.73,111.39 544.80,108.71 545.87,108.18 C546.94,107.64 548.01,107.37 549.08,108.18 C550.15,108.98 551.22,111.66 552.30,113.00 C553.37,114.33 554.44,115.14 555.51,116.21 C556.58,117.28 557.65,117.81 558.72,119.42 C559.79,121.02 560.99,123.17 561.93,125.84 C562.87,128.52 563.67,133.20 564.34,135.48 C565.01,137.75 565.28,140.83 565.95,139.49 C566.61,138.15 567.55,131.86 568.35,127.45 C569.16,123.03 569.96,116.74 570.76,113.00 C571.57,109.25 572.67,107.04 573.17,104.97 C573.68,102.89 573.55,102.42 573.80,100.54 C574.05,98.66 574.42,96.52 574.70,93.69 C574.98,90.85 575.23,87.33 575.50,83.52 C575.77,79.71 576.05,74.63 576.30,70.81 C576.55,66.99 576.79,63.16 577.00,60.59 C577.21,58.02 577.38,56.51 577.55,55.41 C577.72,54.31 577.85,54.02 578.00,54.00 C578.15,53.98 578.28,54.28 578.45,55.28 C578.62,56.27 578.79,57.64 579.00,59.97 C579.21,62.29 579.45,65.76 579.70,69.22 C579.95,72.68 580.23,77.28 580.50,80.73 C580.77,84.18 581.02,87.37 581.30,89.94 C581.58,92.50 581.44,94.44 582.20,96.14 C582.96,97.84 584.84,98.94 585.85,100.15 C586.86,101.35 587.45,100.68 588.26,103.36 C589.06,106.04 589.86,111.39 590.67,116.21 C591.47,121.02 592.40,128.63 593.07,132.27 C593.74,135.91 594.01,139.65 594.68,138.05 C595.35,136.44 596.29,127.88 597.09,122.63 C597.89,117.38 598.69,110.32 599.50,106.57 C600.30,102.82 601.10,100.68 601.91,100.15 C602.71,99.61 603.51,100.95 604.32,103.36 C605.12,105.77 605.92,111.12 606.72,114.60 C607.53,118.08 608.46,122.10 609.13,124.24 C609.80,126.38 610.07,128.52 610.74,127.45 C611.41,126.38 612.34,121.02 613.15,117.81 C613.95,114.60 614.75,110.32 615.56,108.18 C616.36,106.04 617.03,105.77 617.97,104.97 C618.90,104.16 620.11,103.36 621.18,103.36 C622.25,103.36 623.32,104.16 624.39,104.97 C625.46,105.77 626.53,108.44 627.60,108.18 C628.67,107.91 629.74,104.43 630.81,103.36 C631.88,102.29 633.09,103.63 634.02,101.75 C634.96,99.88 635.63,94.53 636.43,92.12 C637.24,89.71 638.04,85.69 638.84,87.30 C639.65,88.91 640.45,96.40 641.25,101.75 C642.05,107.11 642.86,118.35 643.66,119.42 C644.46,120.49 645.40,112.73 646.07,108.18 C646.74,103.63 647.01,92.65 647.67,92.12 C648.34,91.58 649.28,99.08 650.08,104.97 C650.89,110.85 651.64,121.19 652.49,127.45 C653.35,133.71 654.39,141.74 655.22,142.54 C656.05,143.35 656.77,135.05 657.47,132.27 C658.17,129.48 658.76,128.52 659.40,125.84 C660.04,123.17 660.60,117.01 661.33,116.21 C662.05,115.40 662.93,119.69 663.73,121.02 C664.54,122.36 665.21,125.57 666.14,124.24 C667.08,122.90 668.28,117.81 669.35,113.00 C670.43,108.18 671.63,97.20 672.57,95.33 C673.50,93.46 674.17,99.08 674.98,101.75 C675.78,104.43 676.72,110.32 677.38,111.39 C678.05,112.46 678.72,108.71 678.99,108.18" stroke="#4399cd" stroke-width="1.0"/>
</g>
<rect x="472.5" y="20.8" width="210.7" height="131.5" fill="none" stroke="#cfcfcf" stroke-width="0.9"/>
<line x1="470.9" y1="49.5" x2="472.5" y2="49.5" stroke="#666" stroke-width="0.5"/>
<text x="470.1" y="51.0" font-size="4.3" text-anchor="end" fill="#444">4</text>
<line x1="470.9" y1="78.7" x2="472.5" y2="78.7" stroke="#666" stroke-width="0.5"/>
<text x="470.1" y="80.2" font-size="4.3" text-anchor="end" fill="#444">2</text>
<line x1="470.9" y1="107.9" x2="472.5" y2="107.9" stroke="#666" stroke-width="0.5"/>
<text x="470.1" y="109.4" font-size="4.3" text-anchor="end" fill="#444">0</text>
<line x1="470.9" y1="137.1" x2="472.5" y2="137.1" stroke="#666" stroke-width="0.5"/>
<text x="470.1" y="138.6" font-size="4.3" text-anchor="end" fill="#444">−2</text>
<line x1="476.2" y1="152.3" x2="476.2" y2="153.9" stroke="#666" stroke-width="0.5"/>
<text x="476.2" y="156.9" font-size="4.3" text-anchor="middle" fill="#444">−250</text>
<line x1="516.9" y1="152.3" x2="516.9" y2="153.9" stroke="#666" stroke-width="0.5"/>
<text x="516.9" y="156.9" font-size="4.3" text-anchor="middle" fill="#444">−150</text>
<line x1="557.5" y1="152.3" x2="557.5" y2="153.9" stroke="#666" stroke-width="0.5"/>
<text x="557.5" y="156.9" font-size="4.3" text-anchor="middle" fill="#444">−50</text>
<line x1="577.9" y1="152.3" x2="577.9" y2="153.9" stroke="#666" stroke-width="0.5"/>
<text x="577.9" y="156.9" font-size="4.3" text-anchor="middle" fill="#444">0</text>
<line x1="598.2" y1="152.3" x2="598.2" y2="153.9" stroke="#666" stroke-width="0.5"/>
<text x="598.2" y="156.9" font-size="4.3" text-anchor="middle" fill="#444">50</text>
<line x1="638.8" y1="152.3" x2="638.8" y2="153.9" stroke="#666" stroke-width="0.5"/>
<text x="638.8" y="156.9" font-size="4.3" text-anchor="middle" fill="#444">150</text>
<line x1="679.5" y1="152.3" x2="679.5" y2="153.9" stroke="#666" stroke-width="0.5"/>
<text x="679.5" y="156.9" font-size="4.3" text-anchor="middle" fill="#444">250</text>
<text x="577.9" y="161.5" font-size="4.8" text-anchor="middle" fill="#262626" stroke="#262626" stroke-width="0.1">Distance from TAD boundary (Kb)</text>
<text x="462.9" y="87.6" font-size="4.7" text-anchor="middle" fill="#262626" stroke="#262626" stroke-width="0.1" transform="rotate(-90 462.9 87.6)">Normalized Avg. Signal</text>
<line x1="609.2" y1="26.2" x2="617.2" y2="26.2" stroke="#404040" stroke-width="1.26" stroke-dasharray="1.9 1.0" opacity="0.9"/>
<text x="620.0" y="27.7" font-size="4.1" fill="#333" stroke="#333" stroke-width="0.08">TopDom</text>
<line x1="609.2" y1="31.9" x2="617.2" y2="31.9" stroke="#ebb050" stroke-width="1.05" stroke-dasharray="2.2 0.9 0.6 0.9" opacity="0.9"/>
<text x="620.0" y="33.4" font-size="4.1" fill="#333" stroke="#333" stroke-width="0.08">HiCseg</text>
<line x1="609.2" y1="37.6" x2="617.2" y2="37.6" stroke="#bfe3f6" stroke-width="0.91" stroke-dasharray="1.8 0.8 0.5 0.8" opacity="0.9"/>
<text x="620.0" y="39.1" font-size="4.1" fill="#333" stroke="#333" stroke-width="0.08">Spectral</text>
<line x1="609.2" y1="43.2" x2="617.2" y2="43.2" stroke="#52c49e" stroke-width="1.33" opacity="0.9"/>
<text x="620.0" y="44.7" font-size="4.1" fill="#333" stroke="#333" stroke-width="0.08">ClusterTAD</text>
<line x1="648.5" y1="26.2" x2="656.5" y2="26.2" stroke="#eee670" stroke-width="0.98" stroke-dasharray="1.2 0.9" opacity="0.9"/>
<text x="659.3" y="27.7" font-size="4.1" fill="#333" stroke="#333" stroke-width="0.08">Armatus</text>
<line x1="648.5" y1="31.9" x2="656.5" y2="31.9" stroke="#e88a48" stroke-width="1.05" stroke-dasharray="2.2 0.9 0.6 0.9" opacity="0.9"/>
<text x="659.3" y="33.4" font-size="4.1" fill="#333" stroke="#333" stroke-width="0.08">IC-Finder</text>
<line x1="648.5" y1="37.6" x2="656.5" y2="37.6" stroke="#f4c0e2" stroke-width="0.84" stroke-dasharray="1.6 1.0" opacity="0.9"/>
<text x="659.3" y="39.1" font-size="4.1" fill="#333" stroke="#333" stroke-width="0.08">Caspian</text>
<line x1="648.5" y1="43.2" x2="656.5" y2="43.2" stroke="#4399cd" stroke-width="1.40" opacity="0.9"/>
<text x="659.3" y="44.7" font-size="4.1" fill="#333" stroke="#333" stroke-width="0.08">EmbedTAD</text>
</svg></body></html>
